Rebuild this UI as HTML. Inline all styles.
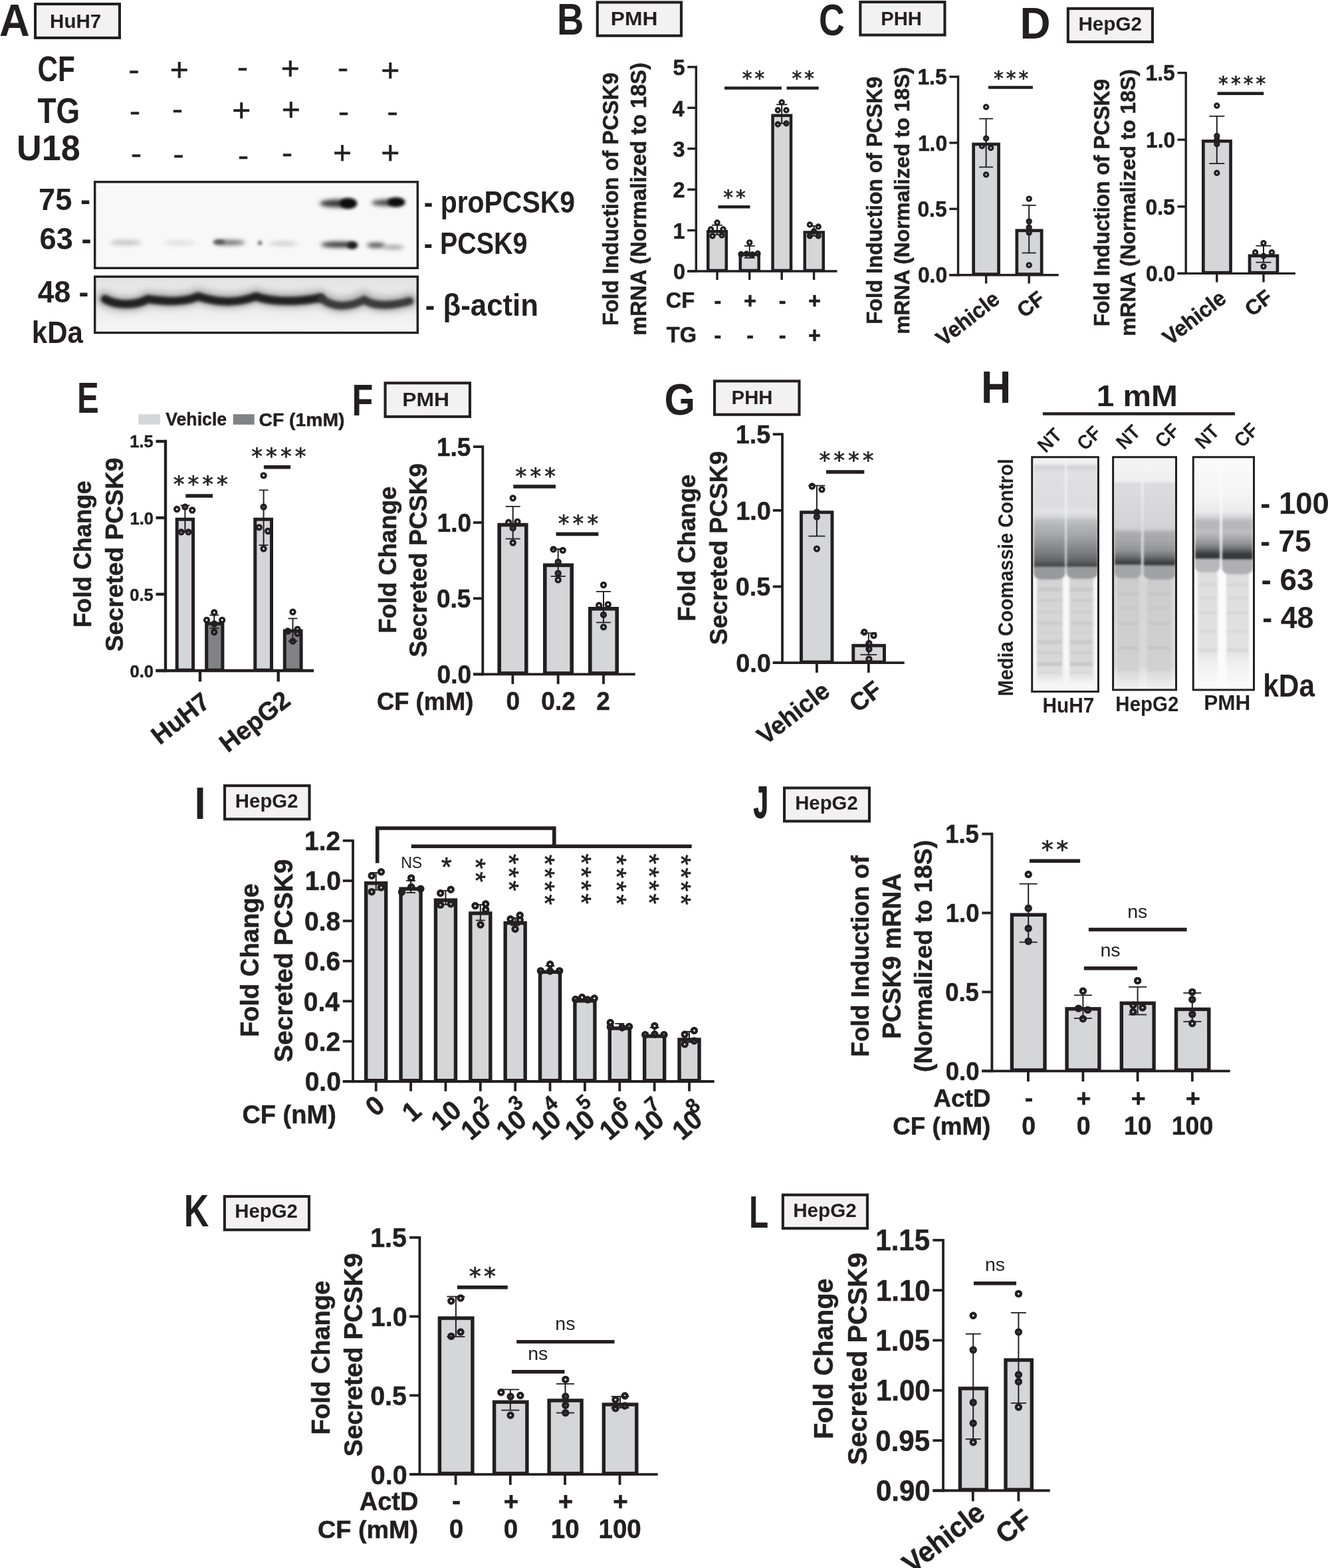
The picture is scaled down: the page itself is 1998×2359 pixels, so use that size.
<!DOCTYPE html>
<html lang="en">
<head>
<meta charset="utf-8">
<title>Figure</title>
<style>
html,body{margin:0;padding:0;background:#fff;}
svg{display:block;}
text{font-family:"Liberation Sans", sans-serif;fill:#231f20;white-space:pre;}
text.fD{font-family:"DejaVu Sans","Liberation Sans",sans-serif;}
</style>
</head>
<body>
<svg width="1998" height="2359" viewBox="0 0 1998 2359">
<defs>
<filter id="bl2" filterUnits="userSpaceOnUse" x="130" y="260" width="510" height="250"><feGaussianBlur stdDeviation="2.2"/></filter>
<filter id="bl3" filterUnits="userSpaceOnUse" x="130" y="260" width="510" height="250"><feGaussianBlur stdDeviation="3.2"/></filter>
<filter id="bl5" filterUnits="userSpaceOnUse" x="130" y="260" width="510" height="250"><feGaussianBlur stdDeviation="5"/></filter>
<clipPath id="cA1"><rect x="142.7" y="273.7" width="485.6" height="129.6"/></clipPath>
<clipPath id="cA2"><rect x="142.7" y="416.2" width="485.6" height="84.4"/></clipPath>
<linearGradient id="gA2" x1="0" y1="0" x2="0" y2="1"><stop offset="0" stop-color="#e2e2e2"/><stop offset="0.25" stop-color="#e8e8e8"/><stop offset="0.7" stop-color="#efefef"/><stop offset="1" stop-color="#f6f6f6"/></linearGradient>
<clipPath id="cgH1"><rect x="1552.7" y="687.7" width="99.70000000000005" height="352.79999999999995"/></clipPath><filter id="fgH1" filterUnits="userSpaceOnUse" x="1541.2" y="676.2" width="122.70000000000005" height="375.79999999999995"><feGaussianBlur stdDeviation="1.6"/></filter>
<linearGradient id="gH1bg" gradientUnits="userSpaceOnUse" x1="0" y1="686" x2="0" y2="1042"><stop offset="0.0000" stop-color="#f8f8f8"/><stop offset="1.0000" stop-color="#f6f6f6"/></linearGradient>
<linearGradient id="gH1u0" gradientUnits="userSpaceOnUse" x1="0" y1="688" x2="0" y2="853"><stop offset="0.0000" stop-color="#f4f4f4"/><stop offset="0.0606" stop-color="#eeeeee"/><stop offset="0.0788" stop-color="#d4d4d6"/><stop offset="0.1091" stop-color="#d6d6d8"/><stop offset="0.1333" stop-color="#e2e2e4"/><stop offset="0.2848" stop-color="#dededf"/><stop offset="0.4364" stop-color="#dddddf"/><stop offset="0.4970" stop-color="#e2e2e4"/><stop offset="0.5394" stop-color="#d8d8da"/><stop offset="0.5697" stop-color="#c2c3c5"/><stop offset="0.6000" stop-color="#b8b9bb"/><stop offset="0.7030" stop-color="#a6a7aa"/><stop offset="0.8061" stop-color="#8c8d90"/><stop offset="0.9091" stop-color="#707174"/><stop offset="0.9576" stop-color="#5a5b5e"/><stop offset="0.9758" stop-color="#4a4b4e"/><stop offset="1.0000" stop-color="#4a4b4e"/></linearGradient>
<linearGradient id="gH1l0" gradientUnits="userSpaceOnUse" x1="0" y1="853" x2="0" y2="1040"><stop offset="0.0000" stop-color="#d0d0d0"/><stop offset="0.1444" stop-color="#d4d4d4"/><stop offset="0.7861" stop-color="#d8d8d8"/><stop offset="0.8824" stop-color="#e6e6e6"/><stop offset="0.9465" stop-color="#f6f6f6"/><stop offset="1.0000" stop-color="#f8f8f8"/></linearGradient>
<linearGradient id="gH1u1" gradientUnits="userSpaceOnUse" x1="0" y1="688" x2="0" y2="853"><stop offset="0.0000" stop-color="#f4f4f4"/><stop offset="0.0606" stop-color="#eeeeee"/><stop offset="0.0788" stop-color="#d4d4d6"/><stop offset="0.1091" stop-color="#d6d6d8"/><stop offset="0.1333" stop-color="#e2e2e4"/><stop offset="0.2848" stop-color="#dededf"/><stop offset="0.4364" stop-color="#dddddf"/><stop offset="0.4970" stop-color="#e2e2e4"/><stop offset="0.5394" stop-color="#d8d8da"/><stop offset="0.5697" stop-color="#c2c3c5"/><stop offset="0.6000" stop-color="#b8b9bb"/><stop offset="0.7030" stop-color="#a6a7aa"/><stop offset="0.8061" stop-color="#8c8d90"/><stop offset="0.9091" stop-color="#707174"/><stop offset="0.9576" stop-color="#5a5b5e"/><stop offset="0.9758" stop-color="#4a4b4e"/><stop offset="1.0000" stop-color="#4a4b4e"/></linearGradient>
<linearGradient id="gH1l1" gradientUnits="userSpaceOnUse" x1="0" y1="853" x2="0" y2="1040"><stop offset="0.0000" stop-color="#d0d0d0"/><stop offset="0.1444" stop-color="#d4d4d4"/><stop offset="0.7861" stop-color="#d8d8d8"/><stop offset="0.8824" stop-color="#e6e6e6"/><stop offset="0.9465" stop-color="#f6f6f6"/><stop offset="1.0000" stop-color="#f8f8f8"/></linearGradient>
<clipPath id="cgH2"><rect x="1674.6" y="687.7" width="94.90000000000009" height="350.20000000000005"/></clipPath><filter id="fgH2" filterUnits="userSpaceOnUse" x="1663.1" y="676.2" width="117.90000000000009" height="373.20000000000005"><feGaussianBlur stdDeviation="1.6"/></filter>
<linearGradient id="gH2bg" gradientUnits="userSpaceOnUse" x1="0" y1="686" x2="0" y2="1039"><stop offset="0.0000" stop-color="#f6f6f6"/><stop offset="0.1530" stop-color="#ececec"/><stop offset="0.3229" stop-color="#dedede"/><stop offset="0.5212" stop-color="#d6d6d6"/><stop offset="0.8895" stop-color="#d8d8d8"/><stop offset="0.9518" stop-color="#ececec"/><stop offset="1.0000" stop-color="#f6f6f6"/></linearGradient>
<linearGradient id="gH2u0" gradientUnits="userSpaceOnUse" x1="0" y1="688" x2="0" y2="851"><stop offset="0.0000" stop-color="#f4f4f4"/><stop offset="0.2209" stop-color="#f0f0f0"/><stop offset="0.2454" stop-color="#d8d8da"/><stop offset="0.2761" stop-color="#dcdcde"/><stop offset="0.3497" stop-color="#dadadc"/><stop offset="0.6564" stop-color="#d2d2d4"/><stop offset="0.6933" stop-color="#b0b0b2"/><stop offset="0.7239" stop-color="#a8a8aa"/><stop offset="0.7607" stop-color="#a8a8ab"/><stop offset="0.8589" stop-color="#929396"/><stop offset="0.9080" stop-color="#74757a"/><stop offset="0.9509" stop-color="#505154"/><stop offset="0.9693" stop-color="#3e3f42"/><stop offset="1.0000" stop-color="#3c3d40"/></linearGradient>
<linearGradient id="gH2l0" gradientUnits="userSpaceOnUse" x1="0" y1="850" x2="0" y2="1038"><stop offset="0.0000" stop-color="#c8c8c8"/><stop offset="0.1596" stop-color="#cccccc"/><stop offset="0.7979" stop-color="#d0d0d0"/><stop offset="0.8936" stop-color="#e0e0e0"/><stop offset="1.0000" stop-color="#f2f2f2"/></linearGradient>
<linearGradient id="gH2u1" gradientUnits="userSpaceOnUse" x1="0" y1="688" x2="0" y2="851"><stop offset="0.0000" stop-color="#f4f4f4"/><stop offset="0.2209" stop-color="#f0f0f0"/><stop offset="0.2454" stop-color="#d8d8da"/><stop offset="0.2761" stop-color="#dcdcde"/><stop offset="0.3497" stop-color="#dadadc"/><stop offset="0.6564" stop-color="#d2d2d4"/><stop offset="0.6933" stop-color="#b0b0b2"/><stop offset="0.7239" stop-color="#a8a8aa"/><stop offset="0.7607" stop-color="#a8a8ab"/><stop offset="0.8589" stop-color="#929396"/><stop offset="0.9080" stop-color="#74757a"/><stop offset="0.9509" stop-color="#505154"/><stop offset="0.9693" stop-color="#3e3f42"/><stop offset="1.0000" stop-color="#3c3d40"/></linearGradient>
<linearGradient id="gH2l1" gradientUnits="userSpaceOnUse" x1="0" y1="850" x2="0" y2="1038"><stop offset="0.0000" stop-color="#c8c8c8"/><stop offset="0.1596" stop-color="#cccccc"/><stop offset="0.7979" stop-color="#d0d0d0"/><stop offset="0.8936" stop-color="#e0e0e0"/><stop offset="1.0000" stop-color="#f2f2f2"/></linearGradient>
<clipPath id="cgH3"><rect x="1795.2" y="687.7" width="91.29999999999995" height="350.20000000000005"/></clipPath><filter id="fgH3" filterUnits="userSpaceOnUse" x="1783.7" y="676.2" width="114.29999999999995" height="373.20000000000005"><feGaussianBlur stdDeviation="1.6"/></filter>
<linearGradient id="gH3bg" gradientUnits="userSpaceOnUse" x1="0" y1="686" x2="0" y2="1039"><stop offset="0.0000" stop-color="#fbfbfb"/><stop offset="1.0000" stop-color="#fbfbfb"/></linearGradient>
<linearGradient id="gH3u0" gradientUnits="userSpaceOnUse" x1="0" y1="688" x2="0" y2="841"><stop offset="0.0000" stop-color="#fbfbfb"/><stop offset="0.3725" stop-color="#f4f4f4"/><stop offset="0.5359" stop-color="#eaeaec"/><stop offset="0.5948" stop-color="#d0d0d2"/><stop offset="0.6275" stop-color="#b8b8bb"/><stop offset="0.6928" stop-color="#b6b6b9"/><stop offset="0.7320" stop-color="#c0c0c3"/><stop offset="0.7974" stop-color="#a8a8ab"/><stop offset="0.8627" stop-color="#8a8b8e"/><stop offset="0.9150" stop-color="#606164"/><stop offset="0.9477" stop-color="#3a3b3e"/><stop offset="1.0000" stop-color="#343538"/></linearGradient>
<linearGradient id="gH3l0" gradientUnits="userSpaceOnUse" x1="0" y1="841" x2="0" y2="1038"><stop offset="0.0000" stop-color="#dcdcdc"/><stop offset="0.1472" stop-color="#dedede"/><stop offset="0.7056" stop-color="#e2e2e2"/><stop offset="0.8071" stop-color="#f0f0f0"/><stop offset="1.0000" stop-color="#fbfbfb"/></linearGradient>
<linearGradient id="gH3u1" gradientUnits="userSpaceOnUse" x1="0" y1="688" x2="0" y2="841"><stop offset="0.0000" stop-color="#fbfbfb"/><stop offset="0.3725" stop-color="#f4f4f4"/><stop offset="0.5359" stop-color="#eaeaec"/><stop offset="0.5948" stop-color="#d0d0d2"/><stop offset="0.6275" stop-color="#b8b8bb"/><stop offset="0.6928" stop-color="#b6b6b9"/><stop offset="0.7320" stop-color="#c0c0c3"/><stop offset="0.7974" stop-color="#a8a8ab"/><stop offset="0.8627" stop-color="#8a8b8e"/><stop offset="0.9150" stop-color="#606164"/><stop offset="0.9477" stop-color="#3a3b3e"/><stop offset="1.0000" stop-color="#343538"/></linearGradient>
<linearGradient id="gH3l1" gradientUnits="userSpaceOnUse" x1="0" y1="841" x2="0" y2="1038"><stop offset="0.0000" stop-color="#dcdcdc"/><stop offset="0.1472" stop-color="#dedede"/><stop offset="0.7056" stop-color="#e2e2e2"/><stop offset="0.8071" stop-color="#f0f0f0"/><stop offset="1.0000" stop-color="#fbfbfb"/></linearGradient>
</defs>
<rect width="1998" height="2359" fill="#fff"/>
<rect x="1065.25" y="348.25" width="27.50" height="59.75" fill="#d5d6d8" />
<rect x="1113.75" y="382.75" width="27.90" height="25.25" fill="#d5d6d8" />
<rect x="1162.55" y="173.75" width="27.50" height="234.25" fill="#d5d6d8" />
<rect x="1210.75" y="349.55" width="28.00" height="58.45" fill="#d5d6d8" />
<rect x="1464.65" y="216.95" width="37.90" height="196.75" fill="#d5d6d8" />
<rect x="1529.85" y="346.85" width="37.30" height="66.85" fill="#d5d6d8" />
<rect x="1810.35" y="212.35" width="41.20" height="199.05" fill="#d5d6d8" />
<rect x="1880.05" y="384.85" width="41.90" height="26.55" fill="#d5d6d8" />
<rect x="266.20" y="781.30" width="24.40" height="227.70" fill="#d5d6d8" />
<rect x="310.70" y="938.10" width="24.20" height="70.90" fill="#808285" />
<rect x="383.80" y="781.30" width="24.70" height="227.70" fill="#d5d6d8" />
<rect x="428.30" y="949.20" width="24.80" height="59.80" fill="#808285" />
<rect x="751.20" y="789.60" width="40.60" height="224.80" fill="#d5d6d8" />
<rect x="819.80" y="850.30" width="40.40" height="164.10" fill="#d5d6d8" />
<rect x="887.80" y="915.80" width="40.40" height="98.60" fill="#d5d6d8" />
<rect x="1205.45" y="770.75" width="46.50" height="226.35" fill="#d5d6d8" />
<rect x="1283.75" y="971.25" width="46.70" height="25.85" fill="#d5d6d8" />
<rect x="550.70" y="1328.70" width="30.00" height="298.30" fill="#d5d6d8" />
<rect x="603.07" y="1337.20" width="30.00" height="289.80" fill="#d5d6d8" />
<rect x="655.44" y="1354.20" width="30.00" height="272.80" fill="#d5d6d8" />
<rect x="707.81" y="1374.00" width="30.00" height="253.00" fill="#d5d6d8" />
<rect x="760.18" y="1388.70" width="30.00" height="238.30" fill="#d5d6d8" />
<rect x="812.55" y="1462.30" width="30.00" height="164.70" fill="#d5d6d8" />
<rect x="864.92" y="1505.70" width="30.00" height="121.30" fill="#d5d6d8" />
<rect x="917.29" y="1547.00" width="30.00" height="80.00" fill="#d5d6d8" />
<rect x="969.66" y="1558.90" width="30.00" height="68.10" fill="#d5d6d8" />
<rect x="1022.03" y="1564.00" width="30.00" height="63.00" fill="#d5d6d8" />
<rect x="1522.40" y="1376.30" width="49.60" height="235.00" fill="#d5d6d8" />
<rect x="1605.10" y="1517.80" width="48.80" height="93.50" fill="#d5d6d8" />
<rect x="1687.30" y="1509.30" width="48.80" height="102.00" fill="#d5d6d8" />
<rect x="1769.50" y="1518.40" width="49.30" height="92.90" fill="#d5d6d8" />
<rect x="661.40" y="1983.10" width="49.50" height="235.05" fill="#d5d6d8" />
<rect x="743.60" y="2109.30" width="49.30" height="108.85" fill="#d5d6d8" />
<rect x="826.10" y="2107.00" width="49.00" height="111.15" fill="#d5d6d8" />
<rect x="908.30" y="2113.00" width="49.50" height="105.15" fill="#d5d6d8" />
<rect x="1444.40" y="2088.90" width="39.90" height="153.60" fill="#d5d6d8" />
<rect x="1513.00" y="2046.10" width="39.30" height="196.40" fill="#d5d6d8" />
<circle cx="1079.00" cy="335.00" r="3.0" fill="none" stroke="#231f20" stroke-width="3.4"/>
<circle cx="1069.50" cy="345.00" r="3.0" fill="none" stroke="#231f20" stroke-width="3.4"/>
<circle cx="1088.00" cy="345.00" r="3.0" fill="none" stroke="#231f20" stroke-width="3.4"/>
<circle cx="1072.00" cy="355.00" r="3.0" fill="none" stroke="#231f20" stroke-width="3.4"/>
<circle cx="1086.00" cy="354.00" r="3.0" fill="none" stroke="#231f20" stroke-width="3.4"/>
<circle cx="1127.70" cy="364.90" r="3.0" fill="none" stroke="#231f20" stroke-width="3.4"/>
<circle cx="1115.00" cy="382.50" r="3.0" fill="none" stroke="#231f20" stroke-width="3.4"/>
<circle cx="1123.00" cy="382.00" r="3.0" fill="none" stroke="#231f20" stroke-width="3.4"/>
<circle cx="1132.00" cy="383.00" r="3.0" fill="none" stroke="#231f20" stroke-width="3.4"/>
<circle cx="1140.00" cy="381.50" r="3.0" fill="none" stroke="#231f20" stroke-width="3.4"/>
<circle cx="1176.20" cy="154.00" r="3.0" fill="none" stroke="#231f20" stroke-width="3.4"/>
<circle cx="1170.30" cy="165.80" r="3.0" fill="none" stroke="#231f20" stroke-width="3.4"/>
<circle cx="1183.00" cy="165.80" r="3.0" fill="none" stroke="#231f20" stroke-width="3.4"/>
<circle cx="1170.30" cy="187.00" r="3.0" fill="none" stroke="#231f20" stroke-width="3.4"/>
<circle cx="1183.00" cy="185.70" r="3.0" fill="none" stroke="#231f20" stroke-width="3.4"/>
<circle cx="1218.40" cy="338.00" r="3.0" fill="none" stroke="#231f20" stroke-width="3.4"/>
<circle cx="1231.20" cy="341.00" r="3.0" fill="none" stroke="#231f20" stroke-width="3.4"/>
<circle cx="1218.40" cy="355.00" r="3.0" fill="none" stroke="#231f20" stroke-width="3.4"/>
<circle cx="1231.20" cy="355.00" r="3.0" fill="none" stroke="#231f20" stroke-width="3.4"/>
<circle cx="1224.60" cy="348.00" r="3.0" fill="none" stroke="#231f20" stroke-width="3.4"/>
<circle cx="1483.60" cy="161.00" r="3.0" fill="none" stroke="#231f20" stroke-width="3.4"/>
<circle cx="1483.60" cy="208.30" r="3.0" fill="none" stroke="#231f20" stroke-width="3.4"/>
<circle cx="1477.40" cy="219.70" r="3.0" fill="none" stroke="#231f20" stroke-width="3.4"/>
<circle cx="1490.70" cy="222.50" r="3.0" fill="none" stroke="#231f20" stroke-width="3.4"/>
<circle cx="1483.60" cy="262.80" r="3.0" fill="none" stroke="#231f20" stroke-width="3.4"/>
<circle cx="1548.20" cy="299.10" r="3.0" fill="none" stroke="#231f20" stroke-width="3.4"/>
<circle cx="1548.20" cy="333.10" r="3.0" fill="none" stroke="#231f20" stroke-width="3.4"/>
<circle cx="1548.20" cy="342.20" r="3.0" fill="none" stroke="#231f20" stroke-width="3.4"/>
<circle cx="1548.20" cy="350.10" r="3.0" fill="none" stroke="#231f20" stroke-width="3.4"/>
<circle cx="1548.20" cy="398.90" r="3.0" fill="none" stroke="#231f20" stroke-width="3.4"/>
<circle cx="1830.80" cy="159.00" r="3.0" fill="none" stroke="#231f20" stroke-width="3.4"/>
<circle cx="1830.80" cy="204.60" r="3.0" fill="none" stroke="#231f20" stroke-width="3.4"/>
<circle cx="1830.80" cy="210.50" r="3.0" fill="none" stroke="#231f20" stroke-width="3.4"/>
<circle cx="1830.80" cy="216.80" r="3.0" fill="none" stroke="#231f20" stroke-width="3.4"/>
<circle cx="1830.80" cy="260.20" r="3.0" fill="none" stroke="#231f20" stroke-width="3.4"/>
<circle cx="1901.00" cy="365.70" r="3.0" fill="none" stroke="#231f20" stroke-width="3.4"/>
<circle cx="1888.60" cy="379.80" r="3.0" fill="none" stroke="#231f20" stroke-width="3.4"/>
<circle cx="1913.50" cy="379.80" r="3.0" fill="none" stroke="#231f20" stroke-width="3.4"/>
<circle cx="1901.00" cy="385.20" r="3.0" fill="none" stroke="#231f20" stroke-width="3.4"/>
<circle cx="1901.00" cy="400.90" r="3.0" fill="none" stroke="#231f20" stroke-width="3.4"/>
<circle cx="266.20" cy="766.00" r="3.35" fill="none" stroke="#231f20" stroke-width="3.6"/>
<circle cx="278.40" cy="762.70" r="3.35" fill="none" stroke="#231f20" stroke-width="3.6"/>
<circle cx="289.20" cy="767.50" r="3.35" fill="none" stroke="#231f20" stroke-width="3.6"/>
<circle cx="272.70" cy="800.40" r="3.35" fill="none" stroke="#231f20" stroke-width="3.6"/>
<circle cx="283.50" cy="800.40" r="3.35" fill="none" stroke="#231f20" stroke-width="3.6"/>
<circle cx="396.60" cy="715.30" r="3.35" fill="none" stroke="#231f20" stroke-width="3.6"/>
<circle cx="396.60" cy="762.70" r="3.35" fill="none" stroke="#231f20" stroke-width="3.6"/>
<circle cx="389.80" cy="793.30" r="3.35" fill="none" stroke="#231f20" stroke-width="3.6"/>
<circle cx="403.10" cy="799.00" r="3.35" fill="none" stroke="#231f20" stroke-width="3.6"/>
<circle cx="396.60" cy="825.60" r="3.35" fill="none" stroke="#231f20" stroke-width="3.6"/>
<circle cx="322.30" cy="921.50" r="3.35" fill="none" stroke="#231f20" stroke-width="3.6"/>
<circle cx="311.00" cy="932.80" r="3.35" fill="none" stroke="#231f20" stroke-width="3.6"/>
<circle cx="334.20" cy="932.80" r="3.35" fill="none" stroke="#231f20" stroke-width="3.6"/>
<circle cx="322.30" cy="938.50" r="3.35" fill="none" stroke="#231f20" stroke-width="3.6"/>
<circle cx="322.30" cy="951.00" r="3.35" fill="none" stroke="#231f20" stroke-width="3.6"/>
<circle cx="440.50" cy="920.60" r="3.35" fill="none" stroke="#231f20" stroke-width="3.6"/>
<circle cx="432.90" cy="949.50" r="3.35" fill="none" stroke="#231f20" stroke-width="3.6"/>
<circle cx="447.60" cy="946.70" r="3.35" fill="none" stroke="#231f20" stroke-width="3.6"/>
<circle cx="447.60" cy="953.00" r="3.35" fill="none" stroke="#231f20" stroke-width="3.6"/>
<circle cx="440.50" cy="964.60" r="3.35" fill="none" stroke="#231f20" stroke-width="3.6"/>
<circle cx="771.70" cy="749.30" r="3.35" fill="none" stroke="#231f20" stroke-width="3.6"/>
<circle cx="765.20" cy="786.00" r="3.35" fill="none" stroke="#231f20" stroke-width="3.6"/>
<circle cx="778.50" cy="784.80" r="3.35" fill="none" stroke="#231f20" stroke-width="3.6"/>
<circle cx="771.70" cy="794.40" r="3.35" fill="none" stroke="#231f20" stroke-width="3.6"/>
<circle cx="771.70" cy="816.50" r="3.35" fill="none" stroke="#231f20" stroke-width="3.6"/>
<circle cx="832.60" cy="826.40" r="3.35" fill="none" stroke="#231f20" stroke-width="3.6"/>
<circle cx="846.80" cy="827.80" r="3.35" fill="none" stroke="#231f20" stroke-width="3.6"/>
<circle cx="839.70" cy="845.50" r="3.35" fill="none" stroke="#231f20" stroke-width="3.6"/>
<circle cx="839.70" cy="862.50" r="3.35" fill="none" stroke="#231f20" stroke-width="3.6"/>
<circle cx="839.70" cy="872.40" r="3.35" fill="none" stroke="#231f20" stroke-width="3.6"/>
<circle cx="908.00" cy="880.00" r="3.35" fill="none" stroke="#231f20" stroke-width="3.6"/>
<circle cx="901.20" cy="910.70" r="3.35" fill="none" stroke="#231f20" stroke-width="3.6"/>
<circle cx="914.80" cy="909.30" r="3.35" fill="none" stroke="#231f20" stroke-width="3.6"/>
<circle cx="908.00" cy="924.90" r="3.35" fill="none" stroke="#231f20" stroke-width="3.6"/>
<circle cx="908.00" cy="943.30" r="3.35" fill="none" stroke="#231f20" stroke-width="3.6"/>
<circle cx="1221.80" cy="731.50" r="3.35" fill="none" stroke="#231f20" stroke-width="3.6"/>
<circle cx="1236.50" cy="736.30" r="3.35" fill="none" stroke="#231f20" stroke-width="3.6"/>
<circle cx="1228.90" cy="770.30" r="3.35" fill="none" stroke="#231f20" stroke-width="3.6"/>
<circle cx="1228.90" cy="777.70" r="3.35" fill="none" stroke="#231f20" stroke-width="3.6"/>
<circle cx="1228.90" cy="825.60" r="3.35" fill="none" stroke="#231f20" stroke-width="3.6"/>
<circle cx="1300.30" cy="951.00" r="3.35" fill="none" stroke="#231f20" stroke-width="3.6"/>
<circle cx="1314.50" cy="956.00" r="3.35" fill="none" stroke="#231f20" stroke-width="3.6"/>
<circle cx="1307.40" cy="968.00" r="3.35" fill="none" stroke="#231f20" stroke-width="3.6"/>
<circle cx="1307.40" cy="976.50" r="3.35" fill="none" stroke="#231f20" stroke-width="3.6"/>
<circle cx="1307.40" cy="991.50" r="3.35" fill="none" stroke="#231f20" stroke-width="3.6"/>
<circle cx="559.20" cy="1317.50" r="3.6" fill="none" stroke="#231f20" stroke-width="4.2"/>
<circle cx="573.40" cy="1311.80" r="3.6" fill="none" stroke="#231f20" stroke-width="4.2"/>
<circle cx="559.20" cy="1341.60" r="3.6" fill="none" stroke="#231f20" stroke-width="4.2"/>
<circle cx="573.40" cy="1335.30" r="3.6" fill="none" stroke="#231f20" stroke-width="4.2"/>
<circle cx="618.70" cy="1320.90" r="3.6" fill="none" stroke="#231f20" stroke-width="4.2"/>
<circle cx="604.50" cy="1342.00" r="3.6" fill="none" stroke="#231f20" stroke-width="4.2"/>
<circle cx="632.90" cy="1337.30" r="3.6" fill="none" stroke="#231f20" stroke-width="4.2"/>
<circle cx="618.70" cy="1334.50" r="3.6" fill="none" stroke="#231f20" stroke-width="4.2"/>
<circle cx="678.20" cy="1338.20" r="3.6" fill="none" stroke="#231f20" stroke-width="4.2"/>
<circle cx="662.70" cy="1343.80" r="3.6" fill="none" stroke="#231f20" stroke-width="4.2"/>
<circle cx="662.70" cy="1361.40" r="3.6" fill="none" stroke="#231f20" stroke-width="4.2"/>
<circle cx="678.20" cy="1360.00" r="3.6" fill="none" stroke="#231f20" stroke-width="4.2"/>
<circle cx="715.00" cy="1362.80" r="3.6" fill="none" stroke="#231f20" stroke-width="4.2"/>
<circle cx="730.70" cy="1360.00" r="3.6" fill="none" stroke="#231f20" stroke-width="4.2"/>
<circle cx="730.70" cy="1368.50" r="3.6" fill="none" stroke="#231f20" stroke-width="4.2"/>
<circle cx="723.00" cy="1391.20" r="3.6" fill="none" stroke="#231f20" stroke-width="4.2"/>
<circle cx="768.00" cy="1382.70" r="3.6" fill="none" stroke="#231f20" stroke-width="4.2"/>
<circle cx="782.20" cy="1377.00" r="3.6" fill="none" stroke="#231f20" stroke-width="4.2"/>
<circle cx="782.20" cy="1384.00" r="3.6" fill="none" stroke="#231f20" stroke-width="4.2"/>
<circle cx="775.10" cy="1397.70" r="3.6" fill="none" stroke="#231f20" stroke-width="4.2"/>
<circle cx="827.60" cy="1450.70" r="3.6" fill="none" stroke="#231f20" stroke-width="4.2"/>
<circle cx="813.40" cy="1460.60" r="3.6" fill="none" stroke="#231f20" stroke-width="4.2"/>
<circle cx="841.70" cy="1460.60" r="3.6" fill="none" stroke="#231f20" stroke-width="4.2"/>
<circle cx="827.60" cy="1461.00" r="3.6" fill="none" stroke="#231f20" stroke-width="4.2"/>
<circle cx="865.80" cy="1503.50" r="3.6" fill="none" stroke="#231f20" stroke-width="4.2"/>
<circle cx="875.70" cy="1500.50" r="3.6" fill="none" stroke="#231f20" stroke-width="4.2"/>
<circle cx="884.20" cy="1504.00" r="3.6" fill="none" stroke="#231f20" stroke-width="4.2"/>
<circle cx="894.20" cy="1502.00" r="3.6" fill="none" stroke="#231f20" stroke-width="4.2"/>
<circle cx="918.30" cy="1538.50" r="3.6" fill="none" stroke="#231f20" stroke-width="4.2"/>
<circle cx="918.30" cy="1545.00" r="3.6" fill="none" stroke="#231f20" stroke-width="4.2"/>
<circle cx="936.00" cy="1546.00" r="3.6" fill="none" stroke="#231f20" stroke-width="4.2"/>
<circle cx="946.60" cy="1544.50" r="3.6" fill="none" stroke="#231f20" stroke-width="4.2"/>
<circle cx="984.90" cy="1543.50" r="3.6" fill="none" stroke="#231f20" stroke-width="4.2"/>
<circle cx="970.70" cy="1556.80" r="3.6" fill="none" stroke="#231f20" stroke-width="4.2"/>
<circle cx="999.00" cy="1556.80" r="3.6" fill="none" stroke="#231f20" stroke-width="4.2"/>
<circle cx="984.90" cy="1556.00" r="3.6" fill="none" stroke="#231f20" stroke-width="4.2"/>
<circle cx="1030.20" cy="1556.20" r="3.6" fill="none" stroke="#231f20" stroke-width="4.2"/>
<circle cx="1044.40" cy="1550.50" r="3.6" fill="none" stroke="#231f20" stroke-width="4.2"/>
<circle cx="1030.20" cy="1571.00" r="3.6" fill="none" stroke="#231f20" stroke-width="4.2"/>
<circle cx="1044.40" cy="1566.00" r="3.6" fill="none" stroke="#231f20" stroke-width="4.2"/>
<circle cx="1547.20" cy="1315.50" r="3.6" fill="none" stroke="#231f20" stroke-width="4.2"/>
<circle cx="1547.20" cy="1366.50" r="3.6" fill="none" stroke="#231f20" stroke-width="4.2"/>
<circle cx="1547.20" cy="1396.80" r="3.6" fill="none" stroke="#231f20" stroke-width="4.2"/>
<circle cx="1547.20" cy="1416.10" r="3.6" fill="none" stroke="#231f20" stroke-width="4.2"/>
<circle cx="1629.40" cy="1491.00" r="3.6" fill="none" stroke="#231f20" stroke-width="4.2"/>
<circle cx="1622.60" cy="1517.10" r="3.6" fill="none" stroke="#231f20" stroke-width="4.2"/>
<circle cx="1636.50" cy="1519.40" r="3.6" fill="none" stroke="#231f20" stroke-width="4.2"/>
<circle cx="1629.40" cy="1532.70" r="3.6" fill="none" stroke="#231f20" stroke-width="4.2"/>
<circle cx="1711.60" cy="1475.40" r="3.6" fill="none" stroke="#231f20" stroke-width="4.2"/>
<circle cx="1704.80" cy="1512.30" r="3.6" fill="none" stroke="#231f20" stroke-width="4.2"/>
<circle cx="1719.00" cy="1516.00" r="3.6" fill="none" stroke="#231f20" stroke-width="4.2"/>
<circle cx="1704.80" cy="1522.20" r="3.6" fill="none" stroke="#231f20" stroke-width="4.2"/>
<circle cx="1793.80" cy="1492.40" r="3.6" fill="none" stroke="#231f20" stroke-width="4.2"/>
<circle cx="1793.80" cy="1503.80" r="3.6" fill="none" stroke="#231f20" stroke-width="4.2"/>
<circle cx="1793.80" cy="1525.90" r="3.6" fill="none" stroke="#231f20" stroke-width="4.2"/>
<circle cx="1793.80" cy="1539.80" r="3.6" fill="none" stroke="#231f20" stroke-width="4.2"/>
<circle cx="678.80" cy="1957.20" r="3.6" fill="none" stroke="#231f20" stroke-width="4.2"/>
<circle cx="693.00" cy="1952.90" r="3.6" fill="none" stroke="#231f20" stroke-width="4.2"/>
<circle cx="678.80" cy="2010.40" r="3.6" fill="none" stroke="#231f20" stroke-width="4.2"/>
<circle cx="693.00" cy="2004.00" r="3.6" fill="none" stroke="#231f20" stroke-width="4.2"/>
<circle cx="753.90" cy="2094.70" r="3.6" fill="none" stroke="#231f20" stroke-width="4.2"/>
<circle cx="768.10" cy="2101.00" r="3.6" fill="none" stroke="#231f20" stroke-width="4.2"/>
<circle cx="782.80" cy="2099.50" r="3.6" fill="none" stroke="#231f20" stroke-width="4.2"/>
<circle cx="768.10" cy="2129.30" r="3.6" fill="none" stroke="#231f20" stroke-width="4.2"/>
<circle cx="850.80" cy="2075.40" r="3.6" fill="none" stroke="#231f20" stroke-width="4.2"/>
<circle cx="850.80" cy="2101.00" r="3.6" fill="none" stroke="#231f20" stroke-width="4.2"/>
<circle cx="850.80" cy="2114.30" r="3.6" fill="none" stroke="#231f20" stroke-width="4.2"/>
<circle cx="850.80" cy="2125.60" r="3.6" fill="none" stroke="#231f20" stroke-width="4.2"/>
<circle cx="926.00" cy="2105.80" r="3.6" fill="none" stroke="#231f20" stroke-width="4.2"/>
<circle cx="940.10" cy="2100.00" r="3.6" fill="none" stroke="#231f20" stroke-width="4.2"/>
<circle cx="926.00" cy="2118.80" r="3.6" fill="none" stroke="#231f20" stroke-width="4.2"/>
<circle cx="940.10" cy="2115.00" r="3.6" fill="none" stroke="#231f20" stroke-width="4.2"/>
<circle cx="1464.20" cy="1979.30" r="3.6" fill="none" stroke="#231f20" stroke-width="4.2"/>
<circle cx="1464.20" cy="2030.90" r="3.6" fill="none" stroke="#231f20" stroke-width="4.2"/>
<circle cx="1464.20" cy="2110.00" r="3.6" fill="none" stroke="#231f20" stroke-width="4.2"/>
<circle cx="1464.20" cy="2141.20" r="3.6" fill="none" stroke="#231f20" stroke-width="4.2"/>
<circle cx="1464.20" cy="2169.80" r="3.6" fill="none" stroke="#231f20" stroke-width="4.2"/>
<circle cx="1532.40" cy="1946.40" r="3.6" fill="none" stroke="#231f20" stroke-width="4.2"/>
<circle cx="1532.40" cy="2004.00" r="3.6" fill="none" stroke="#231f20" stroke-width="4.2"/>
<circle cx="1532.40" cy="2068.30" r="3.6" fill="none" stroke="#231f20" stroke-width="4.2"/>
<circle cx="1532.40" cy="2078.80" r="3.6" fill="none" stroke="#231f20" stroke-width="4.2"/>
<circle cx="1532.40" cy="2117.00" r="3.6" fill="none" stroke="#231f20" stroke-width="4.2"/>
<rect x="1065.25" y="348.25" width="27.50" height="58.70" fill="none" stroke="#231f20" stroke-width="4.5" />
<rect x="1113.75" y="382.75" width="27.90" height="24.20" fill="none" stroke="#231f20" stroke-width="4.5" />
<rect x="1162.55" y="173.75" width="27.50" height="233.20" fill="none" stroke="#231f20" stroke-width="4.5" />
<rect x="1210.75" y="349.55" width="28.00" height="57.40" fill="none" stroke="#231f20" stroke-width="4.5" />
<rect x="1464.65" y="216.95" width="37.90" height="195.60" fill="none" stroke="#231f20" stroke-width="4.7" />
<rect x="1529.85" y="346.85" width="37.30" height="65.70" fill="none" stroke="#231f20" stroke-width="4.7" />
<rect x="1810.35" y="212.35" width="41.20" height="197.90" fill="none" stroke="#231f20" stroke-width="4.7" />
<rect x="1880.05" y="384.85" width="41.90" height="25.40" fill="none" stroke="#231f20" stroke-width="4.7" />
<rect x="266.20" y="781.30" width="24.40" height="226.90" fill="none" stroke="#231f20" stroke-width="5.0" />
<rect x="310.70" y="938.10" width="24.20" height="70.10" fill="none" stroke="#231f20" stroke-width="5.0" />
<rect x="383.80" y="781.30" width="24.70" height="226.90" fill="none" stroke="#231f20" stroke-width="5.0" />
<rect x="428.30" y="949.20" width="24.80" height="59.00" fill="none" stroke="#231f20" stroke-width="5.0" />
<rect x="751.20" y="789.60" width="40.60" height="223.40" fill="none" stroke="#231f20" stroke-width="5.6" />
<rect x="819.80" y="850.30" width="40.40" height="162.70" fill="none" stroke="#231f20" stroke-width="5.6" />
<rect x="887.80" y="915.80" width="40.40" height="97.20" fill="none" stroke="#231f20" stroke-width="5.6" />
<rect x="1205.45" y="770.75" width="46.50" height="225.30" fill="none" stroke="#231f20" stroke-width="4.9" />
<rect x="1283.75" y="971.25" width="46.70" height="24.80" fill="none" stroke="#231f20" stroke-width="4.9" />
<rect x="550.70" y="1328.70" width="30.00" height="297.00" fill="none" stroke="#231f20" stroke-width="5.4" />
<rect x="603.07" y="1337.20" width="30.00" height="288.50" fill="none" stroke="#231f20" stroke-width="5.4" />
<rect x="655.44" y="1354.20" width="30.00" height="271.50" fill="none" stroke="#231f20" stroke-width="5.4" />
<rect x="707.81" y="1374.00" width="30.00" height="251.70" fill="none" stroke="#231f20" stroke-width="5.4" />
<rect x="760.18" y="1388.70" width="30.00" height="237.00" fill="none" stroke="#231f20" stroke-width="5.4" />
<rect x="812.55" y="1462.30" width="30.00" height="163.40" fill="none" stroke="#231f20" stroke-width="5.4" />
<rect x="864.92" y="1505.70" width="30.00" height="120.00" fill="none" stroke="#231f20" stroke-width="5.4" />
<rect x="917.29" y="1547.00" width="30.00" height="78.70" fill="none" stroke="#231f20" stroke-width="5.4" />
<rect x="969.66" y="1558.90" width="30.00" height="66.80" fill="none" stroke="#231f20" stroke-width="5.4" />
<rect x="1022.03" y="1564.00" width="30.00" height="61.70" fill="none" stroke="#231f20" stroke-width="5.4" />
<rect x="1522.40" y="1376.30" width="49.60" height="233.70" fill="none" stroke="#231f20" stroke-width="5.4" />
<rect x="1605.10" y="1517.80" width="48.80" height="92.20" fill="none" stroke="#231f20" stroke-width="5.4" />
<rect x="1687.30" y="1509.30" width="48.80" height="100.70" fill="none" stroke="#231f20" stroke-width="5.4" />
<rect x="1769.50" y="1518.40" width="49.30" height="91.60" fill="none" stroke="#231f20" stroke-width="5.4" />
<rect x="661.40" y="1983.10" width="49.50" height="233.75" fill="none" stroke="#231f20" stroke-width="5.4" />
<rect x="743.60" y="2109.30" width="49.30" height="107.55" fill="none" stroke="#231f20" stroke-width="5.4" />
<rect x="826.10" y="2107.00" width="49.00" height="109.85" fill="none" stroke="#231f20" stroke-width="5.4" />
<rect x="908.30" y="2113.00" width="49.50" height="103.85" fill="none" stroke="#231f20" stroke-width="5.4" />
<rect x="1444.40" y="2088.90" width="39.90" height="152.30" fill="none" stroke="#231f20" stroke-width="5.4" />
<rect x="1513.00" y="2046.10" width="39.30" height="195.10" fill="none" stroke="#231f20" stroke-width="5.4" />
<line x1="1079.00" y1="338.80" x2="1079.00" y2="353.00" stroke="#231f20" stroke-width="2.0" stroke-linecap="butt"/>
<line x1="1071.00" y1="338.80" x2="1087.00" y2="338.80" stroke="#231f20" stroke-width="1.8" stroke-linecap="butt"/>
<line x1="1071.00" y1="353.00" x2="1087.00" y2="353.00" stroke="#231f20" stroke-width="1.8" stroke-linecap="butt"/>
<line x1="1127.70" y1="370.00" x2="1127.70" y2="388.00" stroke="#231f20" stroke-width="2.0" stroke-linecap="butt"/>
<line x1="1119.70" y1="370.00" x2="1135.70" y2="370.00" stroke="#231f20" stroke-width="1.8" stroke-linecap="butt"/>
<line x1="1119.70" y1="388.00" x2="1135.70" y2="388.00" stroke="#231f20" stroke-width="1.8" stroke-linecap="butt"/>
<line x1="1176.20" y1="157.30" x2="1176.20" y2="185.70" stroke="#231f20" stroke-width="2.0" stroke-linecap="butt"/>
<line x1="1168.20" y1="157.30" x2="1184.20" y2="157.30" stroke="#231f20" stroke-width="1.8" stroke-linecap="butt"/>
<line x1="1168.20" y1="185.70" x2="1184.20" y2="185.70" stroke="#231f20" stroke-width="1.8" stroke-linecap="butt"/>
<line x1="1224.60" y1="340.00" x2="1224.60" y2="355.00" stroke="#231f20" stroke-width="2.0" stroke-linecap="butt"/>
<line x1="1216.60" y1="340.00" x2="1232.60" y2="340.00" stroke="#231f20" stroke-width="1.8" stroke-linecap="butt"/>
<line x1="1216.60" y1="355.00" x2="1232.60" y2="355.00" stroke="#231f20" stroke-width="1.8" stroke-linecap="butt"/>
<line x1="1483.60" y1="178.60" x2="1483.60" y2="251.40" stroke="#231f20" stroke-width="2.0" stroke-linecap="butt"/>
<line x1="1473.10" y1="178.60" x2="1494.10" y2="178.60" stroke="#231f20" stroke-width="1.8" stroke-linecap="butt"/>
<line x1="1473.10" y1="251.40" x2="1494.10" y2="251.40" stroke="#231f20" stroke-width="1.8" stroke-linecap="butt"/>
<line x1="1548.20" y1="308.80" x2="1548.20" y2="380.50" stroke="#231f20" stroke-width="2.0" stroke-linecap="butt"/>
<line x1="1537.70" y1="308.80" x2="1558.70" y2="308.80" stroke="#231f20" stroke-width="1.8" stroke-linecap="butt"/>
<line x1="1537.70" y1="380.50" x2="1558.70" y2="380.50" stroke="#231f20" stroke-width="1.8" stroke-linecap="butt"/>
<line x1="1830.80" y1="174.80" x2="1830.80" y2="246.00" stroke="#231f20" stroke-width="2.0" stroke-linecap="butt"/>
<line x1="1819.30" y1="174.80" x2="1842.30" y2="174.80" stroke="#231f20" stroke-width="1.8" stroke-linecap="butt"/>
<line x1="1819.30" y1="246.00" x2="1842.30" y2="246.00" stroke="#231f20" stroke-width="1.8" stroke-linecap="butt"/>
<line x1="1901.00" y1="369.80" x2="1901.00" y2="394.70" stroke="#231f20" stroke-width="2.0" stroke-linecap="butt"/>
<line x1="1889.50" y1="369.80" x2="1912.50" y2="369.80" stroke="#231f20" stroke-width="1.8" stroke-linecap="butt"/>
<line x1="1889.50" y1="394.70" x2="1912.50" y2="394.70" stroke="#231f20" stroke-width="1.8" stroke-linecap="butt"/>
<line x1="278.40" y1="760.40" x2="278.40" y2="800.00" stroke="#231f20" stroke-width="2.0" stroke-linecap="butt"/>
<line x1="271.40" y1="760.40" x2="285.40" y2="760.40" stroke="#231f20" stroke-width="1.8" stroke-linecap="butt"/>
<line x1="271.40" y1="800.00" x2="285.40" y2="800.00" stroke="#231f20" stroke-width="1.8" stroke-linecap="butt"/>
<line x1="396.60" y1="737.40" x2="396.60" y2="820.20" stroke="#231f20" stroke-width="2.0" stroke-linecap="butt"/>
<line x1="389.60" y1="737.40" x2="403.60" y2="737.40" stroke="#231f20" stroke-width="1.8" stroke-linecap="butt"/>
<line x1="389.60" y1="820.20" x2="403.60" y2="820.20" stroke="#231f20" stroke-width="1.8" stroke-linecap="butt"/>
<line x1="322.30" y1="925.40" x2="322.30" y2="945.30" stroke="#231f20" stroke-width="2.0" stroke-linecap="butt"/>
<line x1="315.30" y1="925.40" x2="329.30" y2="925.40" stroke="#231f20" stroke-width="1.8" stroke-linecap="butt"/>
<line x1="315.30" y1="945.30" x2="329.30" y2="945.30" stroke="#231f20" stroke-width="1.8" stroke-linecap="butt"/>
<line x1="440.50" y1="930.50" x2="440.50" y2="964.60" stroke="#231f20" stroke-width="2.0" stroke-linecap="butt"/>
<line x1="433.50" y1="930.50" x2="447.50" y2="930.50" stroke="#231f20" stroke-width="1.8" stroke-linecap="butt"/>
<line x1="433.50" y1="964.60" x2="447.50" y2="964.60" stroke="#231f20" stroke-width="1.8" stroke-linecap="butt"/>
<line x1="771.70" y1="762.00" x2="771.70" y2="810.60" stroke="#231f20" stroke-width="2.0" stroke-linecap="butt"/>
<line x1="760.70" y1="762.00" x2="782.70" y2="762.00" stroke="#231f20" stroke-width="1.8" stroke-linecap="butt"/>
<line x1="760.70" y1="810.60" x2="782.70" y2="810.60" stroke="#231f20" stroke-width="1.8" stroke-linecap="butt"/>
<line x1="839.70" y1="826.00" x2="839.70" y2="867.00" stroke="#231f20" stroke-width="2.0" stroke-linecap="butt"/>
<line x1="828.70" y1="826.00" x2="850.70" y2="826.00" stroke="#231f20" stroke-width="1.8" stroke-linecap="butt"/>
<line x1="828.70" y1="867.00" x2="850.70" y2="867.00" stroke="#231f20" stroke-width="1.8" stroke-linecap="butt"/>
<line x1="908.00" y1="890.00" x2="908.00" y2="936.50" stroke="#231f20" stroke-width="2.0" stroke-linecap="butt"/>
<line x1="897.00" y1="890.00" x2="919.00" y2="890.00" stroke="#231f20" stroke-width="1.8" stroke-linecap="butt"/>
<line x1="897.00" y1="936.50" x2="919.00" y2="936.50" stroke="#231f20" stroke-width="1.8" stroke-linecap="butt"/>
<line x1="1228.90" y1="730.60" x2="1228.90" y2="806.60" stroke="#231f20" stroke-width="2.0" stroke-linecap="butt"/>
<line x1="1216.40" y1="730.60" x2="1241.40" y2="730.60" stroke="#231f20" stroke-width="1.8" stroke-linecap="butt"/>
<line x1="1216.40" y1="806.60" x2="1241.40" y2="806.60" stroke="#231f20" stroke-width="1.8" stroke-linecap="butt"/>
<line x1="1306.80" y1="952.40" x2="1306.80" y2="985.00" stroke="#231f20" stroke-width="2.0" stroke-linecap="butt"/>
<line x1="1294.30" y1="952.40" x2="1319.30" y2="952.40" stroke="#231f20" stroke-width="1.8" stroke-linecap="butt"/>
<line x1="1294.30" y1="985.00" x2="1319.30" y2="985.00" stroke="#231f20" stroke-width="1.8" stroke-linecap="butt"/>
<line x1="565.70" y1="1313.00" x2="565.70" y2="1338.70" stroke="#231f20" stroke-width="2.0" stroke-linecap="butt"/>
<line x1="558.70" y1="1313.00" x2="572.70" y2="1313.00" stroke="#231f20" stroke-width="1.8" stroke-linecap="butt"/>
<line x1="558.70" y1="1338.70" x2="572.70" y2="1338.70" stroke="#231f20" stroke-width="1.8" stroke-linecap="butt"/>
<line x1="618.07" y1="1325.00" x2="618.07" y2="1343.00" stroke="#231f20" stroke-width="2.0" stroke-linecap="butt"/>
<line x1="611.07" y1="1325.00" x2="625.07" y2="1325.00" stroke="#231f20" stroke-width="1.8" stroke-linecap="butt"/>
<line x1="611.07" y1="1343.00" x2="625.07" y2="1343.00" stroke="#231f20" stroke-width="1.8" stroke-linecap="butt"/>
<line x1="670.44" y1="1340.00" x2="670.44" y2="1361.00" stroke="#231f20" stroke-width="2.0" stroke-linecap="butt"/>
<line x1="663.44" y1="1340.00" x2="677.44" y2="1340.00" stroke="#231f20" stroke-width="1.8" stroke-linecap="butt"/>
<line x1="663.44" y1="1361.00" x2="677.44" y2="1361.00" stroke="#231f20" stroke-width="1.8" stroke-linecap="butt"/>
<line x1="722.81" y1="1361.00" x2="722.81" y2="1384.60" stroke="#231f20" stroke-width="2.0" stroke-linecap="butt"/>
<line x1="715.81" y1="1361.00" x2="729.81" y2="1361.00" stroke="#231f20" stroke-width="1.8" stroke-linecap="butt"/>
<line x1="715.81" y1="1384.60" x2="729.81" y2="1384.60" stroke="#231f20" stroke-width="1.8" stroke-linecap="butt"/>
<line x1="775.18" y1="1381.00" x2="775.18" y2="1392.00" stroke="#231f20" stroke-width="2.0" stroke-linecap="butt"/>
<line x1="768.18" y1="1381.00" x2="782.18" y2="1381.00" stroke="#231f20" stroke-width="1.8" stroke-linecap="butt"/>
<line x1="768.18" y1="1392.00" x2="782.18" y2="1392.00" stroke="#231f20" stroke-width="1.8" stroke-linecap="butt"/>
<line x1="827.55" y1="1453.00" x2="827.55" y2="1462.00" stroke="#231f20" stroke-width="2.0" stroke-linecap="butt"/>
<line x1="820.55" y1="1453.00" x2="834.55" y2="1453.00" stroke="#231f20" stroke-width="1.8" stroke-linecap="butt"/>
<line x1="820.55" y1="1462.00" x2="834.55" y2="1462.00" stroke="#231f20" stroke-width="1.8" stroke-linecap="butt"/>
<line x1="932.29" y1="1540.00" x2="932.29" y2="1547.00" stroke="#231f20" stroke-width="2.0" stroke-linecap="butt"/>
<line x1="925.29" y1="1540.00" x2="939.29" y2="1540.00" stroke="#231f20" stroke-width="1.8" stroke-linecap="butt"/>
<line x1="925.29" y1="1547.00" x2="939.29" y2="1547.00" stroke="#231f20" stroke-width="1.8" stroke-linecap="butt"/>
<line x1="984.66" y1="1546.00" x2="984.66" y2="1557.00" stroke="#231f20" stroke-width="2.0" stroke-linecap="butt"/>
<line x1="977.66" y1="1546.00" x2="991.66" y2="1546.00" stroke="#231f20" stroke-width="1.8" stroke-linecap="butt"/>
<line x1="977.66" y1="1557.00" x2="991.66" y2="1557.00" stroke="#231f20" stroke-width="1.8" stroke-linecap="butt"/>
<line x1="1037.03" y1="1552.00" x2="1037.03" y2="1568.00" stroke="#231f20" stroke-width="2.0" stroke-linecap="butt"/>
<line x1="1030.03" y1="1552.00" x2="1044.03" y2="1552.00" stroke="#231f20" stroke-width="1.8" stroke-linecap="butt"/>
<line x1="1030.03" y1="1568.00" x2="1044.03" y2="1568.00" stroke="#231f20" stroke-width="1.8" stroke-linecap="butt"/>
<line x1="1547.20" y1="1329.70" x2="1547.20" y2="1417.50" stroke="#231f20" stroke-width="2.0" stroke-linecap="butt"/>
<line x1="1533.70" y1="1329.70" x2="1560.70" y2="1329.70" stroke="#231f20" stroke-width="1.8" stroke-linecap="butt"/>
<line x1="1533.70" y1="1417.50" x2="1560.70" y2="1417.50" stroke="#231f20" stroke-width="1.8" stroke-linecap="butt"/>
<line x1="1629.40" y1="1497.30" x2="1629.40" y2="1532.00" stroke="#231f20" stroke-width="2.0" stroke-linecap="butt"/>
<line x1="1615.90" y1="1497.30" x2="1642.90" y2="1497.30" stroke="#231f20" stroke-width="1.8" stroke-linecap="butt"/>
<line x1="1615.90" y1="1532.00" x2="1642.90" y2="1532.00" stroke="#231f20" stroke-width="1.8" stroke-linecap="butt"/>
<line x1="1711.60" y1="1484.80" x2="1711.60" y2="1526.50" stroke="#231f20" stroke-width="2.0" stroke-linecap="butt"/>
<line x1="1698.10" y1="1484.80" x2="1725.10" y2="1484.80" stroke="#231f20" stroke-width="1.8" stroke-linecap="butt"/>
<line x1="1698.10" y1="1526.50" x2="1725.10" y2="1526.50" stroke="#231f20" stroke-width="1.8" stroke-linecap="butt"/>
<line x1="1793.80" y1="1493.90" x2="1793.80" y2="1537.00" stroke="#231f20" stroke-width="2.0" stroke-linecap="butt"/>
<line x1="1780.30" y1="1493.90" x2="1807.30" y2="1493.90" stroke="#231f20" stroke-width="1.8" stroke-linecap="butt"/>
<line x1="1780.30" y1="1537.00" x2="1807.30" y2="1537.00" stroke="#231f20" stroke-width="1.8" stroke-linecap="butt"/>
<line x1="685.90" y1="1950.60" x2="685.90" y2="2011.00" stroke="#231f20" stroke-width="2.0" stroke-linecap="butt"/>
<line x1="672.40" y1="1950.60" x2="699.40" y2="1950.60" stroke="#231f20" stroke-width="1.8" stroke-linecap="butt"/>
<line x1="672.40" y1="2011.00" x2="699.40" y2="2011.00" stroke="#231f20" stroke-width="1.8" stroke-linecap="butt"/>
<line x1="767.80" y1="2090.50" x2="767.80" y2="2121.60" stroke="#231f20" stroke-width="2.0" stroke-linecap="butt"/>
<line x1="754.30" y1="2090.50" x2="781.30" y2="2090.50" stroke="#231f20" stroke-width="1.8" stroke-linecap="butt"/>
<line x1="754.30" y1="2121.60" x2="781.30" y2="2121.60" stroke="#231f20" stroke-width="1.8" stroke-linecap="butt"/>
<line x1="850.50" y1="2082.00" x2="850.50" y2="2125.60" stroke="#231f20" stroke-width="2.0" stroke-linecap="butt"/>
<line x1="837.00" y1="2082.00" x2="864.00" y2="2082.00" stroke="#231f20" stroke-width="1.8" stroke-linecap="butt"/>
<line x1="837.00" y1="2125.60" x2="864.00" y2="2125.60" stroke="#231f20" stroke-width="1.8" stroke-linecap="butt"/>
<line x1="933.00" y1="2101.00" x2="933.00" y2="2118.00" stroke="#231f20" stroke-width="2.0" stroke-linecap="butt"/>
<line x1="919.50" y1="2101.00" x2="946.50" y2="2101.00" stroke="#231f20" stroke-width="1.8" stroke-linecap="butt"/>
<line x1="919.50" y1="2118.00" x2="946.50" y2="2118.00" stroke="#231f20" stroke-width="1.8" stroke-linecap="butt"/>
<line x1="1464.20" y1="2006.80" x2="1464.20" y2="2165.00" stroke="#231f20" stroke-width="2.0" stroke-linecap="butt"/>
<line x1="1452.70" y1="2006.80" x2="1475.70" y2="2006.80" stroke="#231f20" stroke-width="1.8" stroke-linecap="butt"/>
<line x1="1452.70" y1="2165.00" x2="1475.70" y2="2165.00" stroke="#231f20" stroke-width="1.8" stroke-linecap="butt"/>
<line x1="1532.40" y1="1975.00" x2="1532.40" y2="2110.90" stroke="#231f20" stroke-width="2.0" stroke-linecap="butt"/>
<line x1="1520.90" y1="1975.00" x2="1543.90" y2="1975.00" stroke="#231f20" stroke-width="1.8" stroke-linecap="butt"/>
<line x1="1520.90" y1="2110.90" x2="1543.90" y2="2110.90" stroke="#231f20" stroke-width="1.8" stroke-linecap="butt"/>
<rect x="53.05" y="6.05" width="126.90" height="50.90" fill="#f2f2f2" stroke="#231f20" stroke-width="4.1" />
<rect x="142.7" y="273.7" width="485.6" height="129.6" fill="#f8f8f8"/>
<g clip-path="url(#cA1)">
<ellipse cx="508" cy="306" rx="27" ry="6" fill="#3a3a3a" filter="url(#bl3)"/>
<ellipse cx="524" cy="306" rx="13" ry="8" fill="#111" filter="url(#bl2)"/>
<ellipse cx="584" cy="305" rx="25" ry="5" fill="#4a4a4a" filter="url(#bl3)"/>
<ellipse cx="596" cy="304" rx="13" ry="7" fill="#111" filter="url(#bl2)"/>
<ellipse cx="510" cy="368" rx="27" ry="4.5" fill="#3c3c3c" filter="url(#bl3)"/>
<ellipse cx="530" cy="369" rx="8" ry="5.5" fill="#1a1a1a" filter="url(#bl2)"/>
<ellipse cx="566" cy="369" rx="14" ry="4" fill="#555" filter="url(#bl3)"/>
<ellipse cx="592" cy="372" rx="16" ry="3" fill="#9a9a9a" filter="url(#bl3)"/>
<ellipse cx="345" cy="365" rx="24" ry="4" fill="#777" filter="url(#bl3)"/>
<ellipse cx="330" cy="364" rx="9" ry="3.5" fill="#555" filter="url(#bl2)"/>
<ellipse cx="391" cy="365.5" rx="3" ry="3" fill="#555" filter="url(#bl2)"/>
<ellipse cx="426" cy="366.5" rx="22" ry="3" fill="#c8c8c8" filter="url(#bl3)"/>
<ellipse cx="189" cy="365" rx="24" ry="4" fill="#c4c4c4" filter="url(#bl3)"/>
<ellipse cx="270" cy="365.5" rx="24" ry="3.5" fill="#dedede" filter="url(#bl3)"/>
</g>
<rect x="142.70" y="273.70" width="485.60" height="129.60" fill="none" stroke="#231f20" stroke-width="3.4" />
<rect x="142.7" y="416.2" width="485.6" height="84.4" fill="url(#gA2)"/>
<g clip-path="url(#cA2)">
<path d="M156 449 C175 460 205 460 222 449 C245 452 275 455 298 445 C320 452 350 458 385 445 C405 452 440 455 482 447 C500 462 525 462 548 449 C565 462 595 458 618 452" fill="none" stroke="#8a8a8a" stroke-width="24" stroke-linecap="round" stroke-linejoin="round" filter="url(#bl5)" opacity="0.55"/>
<path d="M158 450 C175 460 205 460 222 450 C245 453 275 456 298 446 C320 453 350 459 385 446 C405 453 440 456 482 448" fill="none" stroke="#202020" stroke-width="12.5" stroke-linecap="round" stroke-linejoin="round" filter="url(#bl2)"/>
<path d="M484 449 C500 463 525 463 548 451 C565 463 595 459 616 453" fill="none" stroke="#3a3a3a" stroke-width="12" stroke-linecap="round" stroke-linejoin="round" filter="url(#bl2)"/>
</g>
<rect x="142.70" y="416.20" width="485.60" height="84.40" fill="none" stroke="#231f20" stroke-width="3.4" />
<rect x="898.75" y="3.45" width="126.20" height="50.30" fill="#f2f2f2" stroke="#231f20" stroke-width="4.1" />
<line x1="1047.30" y1="99.10" x2="1047.30" y2="409.70" stroke="#231f20" stroke-width="3.4" stroke-linecap="butt"/>
<line x1="1034.20" y1="408.00" x2="1259.50" y2="408.00" stroke="#231f20" stroke-width="3.4" stroke-linecap="butt"/>
<line x1="1034.20" y1="408.00" x2="1047.30" y2="408.00" stroke="#231f20" stroke-width="3.4" stroke-linecap="butt"/>
<line x1="1034.20" y1="346.56" x2="1047.30" y2="346.56" stroke="#231f20" stroke-width="3.4" stroke-linecap="butt"/>
<line x1="1034.20" y1="285.12" x2="1047.30" y2="285.12" stroke="#231f20" stroke-width="3.4" stroke-linecap="butt"/>
<line x1="1034.20" y1="223.68" x2="1047.30" y2="223.68" stroke="#231f20" stroke-width="3.4" stroke-linecap="butt"/>
<line x1="1034.20" y1="162.24" x2="1047.30" y2="162.24" stroke="#231f20" stroke-width="3.4" stroke-linecap="butt"/>
<line x1="1034.20" y1="100.80" x2="1047.30" y2="100.80" stroke="#231f20" stroke-width="3.4" stroke-linecap="butt"/>
<line x1="1079.00" y1="408.00" x2="1079.00" y2="421.00" stroke="#231f20" stroke-width="3.4" stroke-linecap="butt"/>
<line x1="1127.70" y1="408.00" x2="1127.70" y2="421.00" stroke="#231f20" stroke-width="3.4" stroke-linecap="butt"/>
<line x1="1176.20" y1="408.00" x2="1176.20" y2="421.00" stroke="#231f20" stroke-width="3.4" stroke-linecap="butt"/>
<line x1="1224.60" y1="408.00" x2="1224.60" y2="421.00" stroke="#231f20" stroke-width="3.4" stroke-linecap="butt"/>
<line x1="1080.40" y1="311.30" x2="1128.50" y2="311.30" stroke="#231f20" stroke-width="4.6" stroke-linecap="butt"/>
<line x1="1090.00" y1="132.50" x2="1175.90" y2="132.50" stroke="#231f20" stroke-width="4.6" stroke-linecap="butt"/>
<line x1="1183.50" y1="132.50" x2="1231.70" y2="132.50" stroke="#231f20" stroke-width="4.6" stroke-linecap="butt"/>
<rect x="1294.35" y="3.05" width="127.10" height="49.60" fill="#f2f2f2" stroke="#231f20" stroke-width="4.1" />
<line x1="1441.50" y1="113.80" x2="1441.50" y2="415.40" stroke="#231f20" stroke-width="3.4" stroke-linecap="butt"/>
<line x1="1428.30" y1="413.70" x2="1592.70" y2="413.70" stroke="#231f20" stroke-width="3.4" stroke-linecap="butt"/>
<line x1="1428.30" y1="413.70" x2="1441.50" y2="413.70" stroke="#231f20" stroke-width="3.4" stroke-linecap="butt"/>
<line x1="1428.30" y1="314.30" x2="1441.50" y2="314.30" stroke="#231f20" stroke-width="3.4" stroke-linecap="butt"/>
<line x1="1428.30" y1="214.90" x2="1441.50" y2="214.90" stroke="#231f20" stroke-width="3.4" stroke-linecap="butt"/>
<line x1="1428.30" y1="115.50" x2="1441.50" y2="115.50" stroke="#231f20" stroke-width="3.4" stroke-linecap="butt"/>
<line x1="1483.60" y1="413.70" x2="1483.60" y2="426.50" stroke="#231f20" stroke-width="3.4" stroke-linecap="butt"/>
<line x1="1548.20" y1="413.70" x2="1548.20" y2="426.50" stroke="#231f20" stroke-width="3.4" stroke-linecap="butt"/>
<line x1="1487.00" y1="131.50" x2="1553.90" y2="131.50" stroke="#231f20" stroke-width="4.6" stroke-linecap="butt"/>
<rect x="1606.85" y="12.85" width="127.10" height="50.10" fill="#f2f2f2" stroke="#231f20" stroke-width="4.1" />
<line x1="1784.20" y1="107.90" x2="1784.20" y2="413.10" stroke="#231f20" stroke-width="3.4" stroke-linecap="butt"/>
<line x1="1771.50" y1="411.40" x2="1949.00" y2="411.40" stroke="#231f20" stroke-width="3.4" stroke-linecap="butt"/>
<line x1="1771.50" y1="411.40" x2="1784.20" y2="411.40" stroke="#231f20" stroke-width="3.4" stroke-linecap="butt"/>
<line x1="1771.50" y1="310.80" x2="1784.20" y2="310.80" stroke="#231f20" stroke-width="3.4" stroke-linecap="butt"/>
<line x1="1771.50" y1="210.20" x2="1784.20" y2="210.20" stroke="#231f20" stroke-width="3.4" stroke-linecap="butt"/>
<line x1="1771.50" y1="109.60" x2="1784.20" y2="109.60" stroke="#231f20" stroke-width="3.4" stroke-linecap="butt"/>
<line x1="1830.80" y1="411.40" x2="1830.80" y2="424.60" stroke="#231f20" stroke-width="3.4" stroke-linecap="butt"/>
<line x1="1901.00" y1="411.40" x2="1901.00" y2="424.60" stroke="#231f20" stroke-width="3.4" stroke-linecap="butt"/>
<line x1="1831.70" y1="140.60" x2="1901.30" y2="140.60" stroke="#231f20" stroke-width="4.6" stroke-linecap="butt"/>
<rect x="208.40" y="623.20" width="32.60" height="15.60" fill="#d5d6d8" />
<rect x="350.70" y="623.20" width="32.00" height="15.60" fill="#808285" />
<line x1="249.00" y1="661.80" x2="249.00" y2="1011.20" stroke="#231f20" stroke-width="4.4" stroke-linecap="butt"/>
<line x1="234.50" y1="1009.00" x2="472.00" y2="1009.00" stroke="#231f20" stroke-width="4.4" stroke-linecap="butt"/>
<line x1="234.50" y1="1009.00" x2="249.00" y2="1009.00" stroke="#231f20" stroke-width="4.4" stroke-linecap="butt"/>
<line x1="234.50" y1="894.00" x2="249.00" y2="894.00" stroke="#231f20" stroke-width="4.4" stroke-linecap="butt"/>
<line x1="234.50" y1="779.00" x2="249.00" y2="779.00" stroke="#231f20" stroke-width="4.4" stroke-linecap="butt"/>
<line x1="234.50" y1="664.00" x2="249.00" y2="664.00" stroke="#231f20" stroke-width="4.4" stroke-linecap="butt"/>
<line x1="301.00" y1="1009.00" x2="301.00" y2="1025.50" stroke="#231f20" stroke-width="4.4" stroke-linecap="butt"/>
<line x1="418.70" y1="1009.00" x2="418.70" y2="1025.50" stroke="#231f20" stroke-width="4.4" stroke-linecap="butt"/>
<line x1="279.30" y1="746.00" x2="320.00" y2="746.00" stroke="#231f20" stroke-width="5.4" stroke-linecap="butt"/>
<line x1="396.90" y1="702.70" x2="437.10" y2="702.70" stroke="#231f20" stroke-width="5.4" stroke-linecap="butt"/>
<rect x="579.55" y="576.25" width="127.40" height="50.60" fill="#f2f2f2" stroke="#231f20" stroke-width="4.1" />
<line x1="726.30" y1="670.20" x2="726.30" y2="1016.30" stroke="#231f20" stroke-width="3.8" stroke-linecap="butt"/>
<line x1="712.00" y1="1014.40" x2="955.70" y2="1014.40" stroke="#231f20" stroke-width="3.8" stroke-linecap="butt"/>
<line x1="712.00" y1="1014.40" x2="726.30" y2="1014.40" stroke="#231f20" stroke-width="3.8" stroke-linecap="butt"/>
<line x1="712.00" y1="900.30" x2="726.30" y2="900.30" stroke="#231f20" stroke-width="3.8" stroke-linecap="butt"/>
<line x1="712.00" y1="786.20" x2="726.30" y2="786.20" stroke="#231f20" stroke-width="3.8" stroke-linecap="butt"/>
<line x1="712.00" y1="672.10" x2="726.30" y2="672.10" stroke="#231f20" stroke-width="3.8" stroke-linecap="butt"/>
<line x1="771.40" y1="1014.40" x2="771.40" y2="1029.20" stroke="#231f20" stroke-width="3.8" stroke-linecap="butt"/>
<line x1="839.70" y1="1014.40" x2="839.70" y2="1029.20" stroke="#231f20" stroke-width="3.8" stroke-linecap="butt"/>
<line x1="908.00" y1="1014.40" x2="908.00" y2="1029.20" stroke="#231f20" stroke-width="3.8" stroke-linecap="butt"/>
<line x1="772.30" y1="732.00" x2="836.00" y2="732.00" stroke="#231f20" stroke-width="5.4" stroke-linecap="butt"/>
<line x1="836.60" y1="803.50" x2="900.40" y2="803.50" stroke="#231f20" stroke-width="5.4" stroke-linecap="butt"/>
<rect x="1075.05" y="573.35" width="127.40" height="50.40" fill="#f2f2f2" stroke="#231f20" stroke-width="4.1" />
<line x1="1177.00" y1="651.40" x2="1177.00" y2="999.00" stroke="#231f20" stroke-width="3.8" stroke-linecap="butt"/>
<line x1="1162.80" y1="997.10" x2="1360.70" y2="997.10" stroke="#231f20" stroke-width="3.8" stroke-linecap="butt"/>
<line x1="1162.80" y1="997.10" x2="1177.00" y2="997.10" stroke="#231f20" stroke-width="3.8" stroke-linecap="butt"/>
<line x1="1162.80" y1="882.50" x2="1177.00" y2="882.50" stroke="#231f20" stroke-width="3.8" stroke-linecap="butt"/>
<line x1="1162.80" y1="767.90" x2="1177.00" y2="767.90" stroke="#231f20" stroke-width="3.8" stroke-linecap="butt"/>
<line x1="1162.80" y1="653.30" x2="1177.00" y2="653.30" stroke="#231f20" stroke-width="3.8" stroke-linecap="butt"/>
<line x1="1228.90" y1="997.10" x2="1228.90" y2="1012.00" stroke="#231f20" stroke-width="3.8" stroke-linecap="butt"/>
<line x1="1306.80" y1="997.10" x2="1306.80" y2="1012.00" stroke="#231f20" stroke-width="3.8" stroke-linecap="butt"/>
<line x1="1243.00" y1="710.00" x2="1300.30" y2="710.00" stroke="#231f20" stroke-width="5.4" stroke-linecap="butt"/>
<line x1="1568.90" y1="622.50" x2="1858.00" y2="622.50" stroke="#231f20" stroke-width="4.4" stroke-linecap="butt"/>
<rect x="1552.7" y="687.7" width="99.70000000000005" height="352.79999999999995" fill="url(#gH1bg)"/>
<g clip-path="url(#cgH1)"><g filter="url(#fgH1)">
<rect x="1560" y="853" width="39" height="187" fill="url(#gH1l0)"/>
<rect x="1561" y="884.5" width="37" height="5" fill="#b4b4b4" opacity="0.44"/>
<rect x="1561" y="901.0" width="37" height="4" fill="#bcbcbc" opacity="0.39"/>
<rect x="1561" y="919.0" width="37" height="4" fill="#c0c0c0" opacity="0.39"/>
<rect x="1561" y="936.0" width="37" height="4" fill="#b8b8b8" opacity="0.44"/>
<rect x="1561" y="950.5" width="37" height="3" fill="#c4c4c4" opacity="0.33"/>
<rect x="1561" y="963.5" width="37" height="5" fill="#b4b4b4" opacity="0.44"/>
<rect x="1561" y="980.0" width="37" height="4" fill="#bcbcbc" opacity="0.39"/>
<rect x="1561" y="996.5" width="37" height="5" fill="#b0b0b0" opacity="0.44"/>
<rect x="1561" y="1010.0" width="37" height="4" fill="#c8c8c8" opacity="0.33"/>
<path d="M1555.3 850 H1602.6 V862 Q1602.6 872 1586.9499999999998 872 H1570.9499999999998 Q1555.3 872 1555.3 862 Z" fill="#98999c"/>
<rect x="1555.3" y="688" width="47.299999999999955" height="165" fill="url(#gH1u0)"/>
<rect x="1609" y="853" width="36" height="187" fill="url(#gH1l1)"/>
<rect x="1610" y="884.5" width="34" height="5" fill="#b4b4b4" opacity="0.44"/>
<rect x="1610" y="901.0" width="34" height="4" fill="#bcbcbc" opacity="0.39"/>
<rect x="1610" y="919.0" width="34" height="4" fill="#c0c0c0" opacity="0.39"/>
<rect x="1610" y="936.0" width="34" height="4" fill="#b8b8b8" opacity="0.44"/>
<rect x="1610" y="950.5" width="34" height="3" fill="#c4c4c4" opacity="0.33"/>
<rect x="1610" y="963.5" width="34" height="5" fill="#b4b4b4" opacity="0.44"/>
<rect x="1610" y="980.0" width="34" height="4" fill="#bcbcbc" opacity="0.39"/>
<rect x="1610" y="996.5" width="34" height="5" fill="#b0b0b0" opacity="0.44"/>
<rect x="1610" y="1010.0" width="34" height="4" fill="#c8c8c8" opacity="0.33"/>
<path d="M1604.6 850 H1651.6 V861 Q1651.6 871 1636.1 871 H1620.1 Q1604.6 871 1604.6 861 Z" fill="#9a9b9e"/>
<rect x="1604.6" y="688" width="47.0" height="165" fill="url(#gH1u1)"/>
</g></g>
<rect x="1552.70" y="687.70" width="99.70" height="352.80" fill="none" stroke="#231f20" stroke-width="3.0" />
<rect x="1674.6" y="687.7" width="94.90000000000009" height="350.20000000000005" fill="url(#gH2bg)"/>
<g clip-path="url(#cgH2)"><g filter="url(#fgH2)">
<rect x="1681" y="850" width="33" height="188" fill="url(#gH2l0)"/>
<rect x="1682" y="891.0" width="31" height="4" fill="#b8b8b8" opacity="0.39"/>
<rect x="1682" y="913.0" width="31" height="4" fill="#bcbcbc" opacity="0.33"/>
<rect x="1682" y="936.0" width="31" height="4" fill="#b8b8b8" opacity="0.39"/>
<rect x="1682" y="973.0" width="31" height="4" fill="#b4b4b4" opacity="0.39"/>
<rect x="1682" y="1006.0" width="31" height="4" fill="#c0c0c0" opacity="0.33"/>
<path d="M1677 848 H1717 V860 Q1717 870 1705.0 870 H1689.0 Q1677 870 1677 860 Z" fill="#a4a5a8"/>
<rect x="1677" y="688" width="40" height="162" fill="url(#gH2u0)"/>
<rect x="1726" y="851" width="36" height="187" fill="url(#gH2l1)"/>
<rect x="1727" y="891.0" width="34" height="4" fill="#b8b8b8" opacity="0.39"/>
<rect x="1727" y="913.0" width="34" height="4" fill="#bcbcbc" opacity="0.33"/>
<rect x="1727" y="936.0" width="34" height="4" fill="#b8b8b8" opacity="0.39"/>
<rect x="1727" y="973.0" width="34" height="4" fill="#b4b4b4" opacity="0.39"/>
<rect x="1727" y="1006.0" width="34" height="4" fill="#c0c0c0" opacity="0.33"/>
<path d="M1720.5 849 H1768.5 V862 Q1768.5 872 1752.5 872 H1736.5 Q1720.5 872 1720.5 862 Z" fill="#a0a1a4"/>
<rect x="1720.5" y="688" width="48.0" height="163" fill="url(#gH2u1)"/>
</g></g>
<rect x="1674.60" y="687.70" width="94.90" height="350.20" fill="none" stroke="#231f20" stroke-width="3.0" />
<rect x="1795.2" y="687.7" width="91.29999999999995" height="350.20000000000005" fill="url(#gH3bg)"/>
<g clip-path="url(#cgH3)"><g filter="url(#fgH3)">
<rect x="1802" y="841" width="30" height="197" fill="url(#gH3l0)"/>
<rect x="1803" y="878.0" width="28" height="4" fill="#c4c4c4" opacity="0.39"/>
<rect x="1803" y="898.0" width="28" height="4" fill="#c8c8c8" opacity="0.33"/>
<rect x="1803" y="920.0" width="28" height="4" fill="#c4c4c4" opacity="0.39"/>
<rect x="1803" y="948.0" width="28" height="4" fill="#c8c8c8" opacity="0.33"/>
<rect x="1803" y="976.0" width="28" height="4" fill="#c4c4c4" opacity="0.39"/>
<path d="M1798 839 H1835.5 V851 Q1835.5 861 1824.75 861 H1808.75 Q1798 861 1798 851 Z" fill="#b8b8bb"/>
<rect x="1798" y="688" width="37.5" height="153" fill="url(#gH3u0)"/>
<rect x="1845" y="842" width="34" height="196" fill="url(#gH3l1)"/>
<rect x="1846" y="878.0" width="32" height="4" fill="#c4c4c4" opacity="0.39"/>
<rect x="1846" y="898.0" width="32" height="4" fill="#c8c8c8" opacity="0.33"/>
<rect x="1846" y="920.0" width="32" height="4" fill="#c4c4c4" opacity="0.39"/>
<rect x="1846" y="948.0" width="32" height="4" fill="#c8c8c8" opacity="0.33"/>
<rect x="1846" y="976.0" width="32" height="4" fill="#c4c4c4" opacity="0.39"/>
<path d="M1838.5 840 H1885 V854 Q1885 864 1869.75 864 H1853.75 Q1838.5 864 1838.5 854 Z" fill="#b0b0b3"/>
<rect x="1838.5" y="688" width="46.5" height="154" fill="url(#gH3u1)"/>
</g></g>
<rect x="1795.20" y="687.70" width="91.30" height="350.20" fill="none" stroke="#231f20" stroke-width="3.0" />
<rect x="338.05" y="1182.05" width="127.50" height="50.30" fill="#f2f2f2" stroke="#231f20" stroke-width="4.1" />
<line x1="531.00" y1="1262.88" x2="531.00" y2="1628.90" stroke="#231f20" stroke-width="3.8" stroke-linecap="butt"/>
<line x1="515.80" y1="1627.00" x2="1074.70" y2="1627.00" stroke="#231f20" stroke-width="3.8" stroke-linecap="butt"/>
<line x1="515.80" y1="1627.00" x2="531.00" y2="1627.00" stroke="#231f20" stroke-width="3.8" stroke-linecap="butt"/>
<line x1="515.80" y1="1566.63" x2="531.00" y2="1566.63" stroke="#231f20" stroke-width="3.8" stroke-linecap="butt"/>
<line x1="515.80" y1="1506.26" x2="531.00" y2="1506.26" stroke="#231f20" stroke-width="3.8" stroke-linecap="butt"/>
<line x1="515.80" y1="1445.89" x2="531.00" y2="1445.89" stroke="#231f20" stroke-width="3.8" stroke-linecap="butt"/>
<line x1="515.80" y1="1385.52" x2="531.00" y2="1385.52" stroke="#231f20" stroke-width="3.8" stroke-linecap="butt"/>
<line x1="515.80" y1="1325.15" x2="531.00" y2="1325.15" stroke="#231f20" stroke-width="3.8" stroke-linecap="butt"/>
<line x1="515.80" y1="1264.78" x2="531.00" y2="1264.78" stroke="#231f20" stroke-width="3.8" stroke-linecap="butt"/>
<line x1="565.70" y1="1627.00" x2="565.70" y2="1641.80" stroke="#231f20" stroke-width="3.8" stroke-linecap="butt"/>
<line x1="618.07" y1="1627.00" x2="618.07" y2="1641.80" stroke="#231f20" stroke-width="3.8" stroke-linecap="butt"/>
<line x1="670.44" y1="1627.00" x2="670.44" y2="1641.80" stroke="#231f20" stroke-width="3.8" stroke-linecap="butt"/>
<line x1="722.81" y1="1627.00" x2="722.81" y2="1641.80" stroke="#231f20" stroke-width="3.8" stroke-linecap="butt"/>
<line x1="775.18" y1="1627.00" x2="775.18" y2="1641.80" stroke="#231f20" stroke-width="3.8" stroke-linecap="butt"/>
<line x1="827.55" y1="1627.00" x2="827.55" y2="1641.80" stroke="#231f20" stroke-width="3.8" stroke-linecap="butt"/>
<line x1="879.92" y1="1627.00" x2="879.92" y2="1641.80" stroke="#231f20" stroke-width="3.8" stroke-linecap="butt"/>
<line x1="932.29" y1="1627.00" x2="932.29" y2="1641.80" stroke="#231f20" stroke-width="3.8" stroke-linecap="butt"/>
<line x1="984.66" y1="1627.00" x2="984.66" y2="1641.80" stroke="#231f20" stroke-width="3.8" stroke-linecap="butt"/>
<line x1="1037.03" y1="1627.00" x2="1037.03" y2="1641.80" stroke="#231f20" stroke-width="3.8" stroke-linecap="butt"/>
<path d="M567.7 1298.5 V1246 H833.8 V1273.2" fill="none" stroke="#231f20" stroke-width="5.6" stroke-linejoin="miter"/>
<line x1="618.70" y1="1273.20" x2="1040.70" y2="1273.20" stroke="#231f20" stroke-width="5.6" stroke-linecap="butt"/>
<rect x="1180.05" y="1185.45" width="127.90" height="50.00" fill="#f2f2f2" stroke="#231f20" stroke-width="4.1" />
<line x1="1492.40" y1="1252.70" x2="1492.40" y2="1613.20" stroke="#231f20" stroke-width="3.8" stroke-linecap="butt"/>
<line x1="1477.30" y1="1611.30" x2="1850.70" y2="1611.30" stroke="#231f20" stroke-width="3.8" stroke-linecap="butt"/>
<line x1="1477.30" y1="1611.30" x2="1492.40" y2="1611.30" stroke="#231f20" stroke-width="3.8" stroke-linecap="butt"/>
<line x1="1477.30" y1="1492.40" x2="1492.40" y2="1492.40" stroke="#231f20" stroke-width="3.8" stroke-linecap="butt"/>
<line x1="1477.30" y1="1373.50" x2="1492.40" y2="1373.50" stroke="#231f20" stroke-width="3.8" stroke-linecap="butt"/>
<line x1="1477.30" y1="1254.60" x2="1492.40" y2="1254.60" stroke="#231f20" stroke-width="3.8" stroke-linecap="butt"/>
<line x1="1546.90" y1="1611.30" x2="1546.90" y2="1627.10" stroke="#231f20" stroke-width="3.8" stroke-linecap="butt"/>
<line x1="1629.40" y1="1611.30" x2="1629.40" y2="1627.10" stroke="#231f20" stroke-width="3.8" stroke-linecap="butt"/>
<line x1="1711.60" y1="1611.30" x2="1711.60" y2="1627.10" stroke="#231f20" stroke-width="3.8" stroke-linecap="butt"/>
<line x1="1793.80" y1="1611.30" x2="1793.80" y2="1627.10" stroke="#231f20" stroke-width="3.8" stroke-linecap="butt"/>
<line x1="1548.90" y1="1295.20" x2="1625.10" y2="1295.20" stroke="#231f20" stroke-width="5.4" stroke-linecap="butt"/>
<line x1="1637.90" y1="1398.50" x2="1785.60" y2="1398.50" stroke="#231f20" stroke-width="5.4" stroke-linecap="butt"/>
<line x1="1630.80" y1="1456.80" x2="1711.00" y2="1456.80" stroke="#231f20" stroke-width="5.4" stroke-linecap="butt"/>
<rect x="337.85" y="1799.95" width="127.10" height="50.30" fill="#f2f2f2" stroke="#231f20" stroke-width="4.1" />
<line x1="631.40" y1="1859.90" x2="631.40" y2="2220.05" stroke="#231f20" stroke-width="3.8" stroke-linecap="butt"/>
<line x1="616.10" y1="2218.15" x2="989.70" y2="2218.15" stroke="#231f20" stroke-width="3.8" stroke-linecap="butt"/>
<line x1="616.10" y1="2218.15" x2="631.40" y2="2218.15" stroke="#231f20" stroke-width="3.8" stroke-linecap="butt"/>
<line x1="616.10" y1="2099.37" x2="631.40" y2="2099.37" stroke="#231f20" stroke-width="3.8" stroke-linecap="butt"/>
<line x1="616.10" y1="1980.58" x2="631.40" y2="1980.58" stroke="#231f20" stroke-width="3.8" stroke-linecap="butt"/>
<line x1="616.10" y1="1861.80" x2="631.40" y2="1861.80" stroke="#231f20" stroke-width="3.8" stroke-linecap="butt"/>
<line x1="685.60" y1="2218.15" x2="685.60" y2="2233.95" stroke="#231f20" stroke-width="3.8" stroke-linecap="butt"/>
<line x1="767.80" y1="2218.15" x2="767.80" y2="2233.95" stroke="#231f20" stroke-width="3.8" stroke-linecap="butt"/>
<line x1="850.00" y1="2218.15" x2="850.00" y2="2233.95" stroke="#231f20" stroke-width="3.8" stroke-linecap="butt"/>
<line x1="932.50" y1="2218.15" x2="932.50" y2="2233.95" stroke="#231f20" stroke-width="3.8" stroke-linecap="butt"/>
<line x1="687.90" y1="1936.70" x2="763.80" y2="1936.70" stroke="#231f20" stroke-width="5.4" stroke-linecap="butt"/>
<line x1="777.20" y1="2018.60" x2="924.50" y2="2018.60" stroke="#231f20" stroke-width="5.4" stroke-linecap="butt"/>
<line x1="770.00" y1="2063.70" x2="849.40" y2="2063.70" stroke="#231f20" stroke-width="5.4" stroke-linecap="butt"/>
<rect x="1177.85" y="1797.65" width="127.10" height="50.30" fill="#f2f2f2" stroke="#231f20" stroke-width="4.1" />
<line x1="1419.00" y1="1863.90" x2="1419.00" y2="2244.40" stroke="#231f20" stroke-width="3.8" stroke-linecap="butt"/>
<line x1="1403.40" y1="2242.50" x2="1579.80" y2="2242.50" stroke="#231f20" stroke-width="3.8" stroke-linecap="butt"/>
<line x1="1403.40" y1="2242.50" x2="1419.00" y2="2242.50" stroke="#231f20" stroke-width="3.8" stroke-linecap="butt"/>
<line x1="1403.40" y1="2167.16" x2="1419.00" y2="2167.16" stroke="#231f20" stroke-width="3.8" stroke-linecap="butt"/>
<line x1="1403.40" y1="2091.82" x2="1419.00" y2="2091.82" stroke="#231f20" stroke-width="3.8" stroke-linecap="butt"/>
<line x1="1403.40" y1="2016.48" x2="1419.00" y2="2016.48" stroke="#231f20" stroke-width="3.8" stroke-linecap="butt"/>
<line x1="1403.40" y1="1941.14" x2="1419.00" y2="1941.14" stroke="#231f20" stroke-width="3.8" stroke-linecap="butt"/>
<line x1="1403.40" y1="1865.80" x2="1419.00" y2="1865.80" stroke="#231f20" stroke-width="3.8" stroke-linecap="butt"/>
<line x1="1463.80" y1="2242.50" x2="1463.80" y2="2258.60" stroke="#231f20" stroke-width="3.8" stroke-linecap="butt"/>
<line x1="1532.40" y1="2242.50" x2="1532.40" y2="2258.60" stroke="#231f20" stroke-width="3.8" stroke-linecap="butt"/>
<line x1="1465.00" y1="1930.80" x2="1529.00" y2="1930.80" stroke="#231f20" stroke-width="5.4" stroke-linecap="butt"/>
<text transform="translate(0.00 53.70) scale(0.9164 1.0000) translate(-1.08 0.00)" font-size="69.2" font-weight="bold">A</text>
<text transform="translate(76.90 42.20) scale(0.9847 1.0000) translate(-1.88 0.00)" font-size="30" font-weight="bold">HuH7</text>
<text transform="translate(57.80 122.40) scale(0.7851 1.0000) translate(-1.69 -0.84)" font-size="54" font-weight="bold">CF</text>
<text transform="translate(56.50 186.00) scale(0.8496 1.0000) translate(0.00 -0.84)" font-size="54" font-weight="bold">TG</text>
<text transform="translate(27.50 242.00) scale(0.9665 1.0000) translate(-2.53 -0.84)" font-size="54" font-weight="bold">U18</text>
<text transform="translate(201.50 108.50) scale(1.0952 1.0000) translate(-7.22 11.69)" font-size="44" stroke="#231f20" stroke-width="0.7" stroke-linejoin="round">-</text>
<text transform="translate(270.00 105.50) translate(-14.25 15.75)" font-size="48" stroke="#231f20" stroke-width="0.6" stroke-linejoin="round">+</text>
<text transform="translate(365.00 104.20) scale(1.0952 1.0000) translate(-7.22 11.69)" font-size="44" stroke="#231f20" stroke-width="0.7" stroke-linejoin="round">-</text>
<text transform="translate(437.00 103.00) translate(-14.25 15.75)" font-size="48" stroke="#231f20" stroke-width="0.6" stroke-linejoin="round">+</text>
<text transform="translate(516.00 105.20) scale(1.0952 1.0000) translate(-7.22 11.69)" font-size="44" stroke="#231f20" stroke-width="0.7" stroke-linejoin="round">-</text>
<text transform="translate(587.60 106.50) translate(-14.25 15.75)" font-size="48" stroke="#231f20" stroke-width="0.6" stroke-linejoin="round">+</text>
<text transform="translate(203.00 170.20) scale(1.0952 1.0000) translate(-7.22 11.69)" font-size="44" stroke="#231f20" stroke-width="0.7" stroke-linejoin="round">-</text>
<text transform="translate(267.00 167.20) scale(1.0952 1.0000) translate(-7.22 11.69)" font-size="44" stroke="#231f20" stroke-width="0.7" stroke-linejoin="round">-</text>
<text transform="translate(363.60 166.00) translate(-14.25 15.75)" font-size="48" stroke="#231f20" stroke-width="0.6" stroke-linejoin="round">+</text>
<text transform="translate(438.00 165.40) translate(-14.25 15.75)" font-size="48" stroke="#231f20" stroke-width="0.6" stroke-linejoin="round">+</text>
<text transform="translate(517.00 171.50) scale(1.0952 1.0000) translate(-7.22 11.69)" font-size="44" stroke="#231f20" stroke-width="0.7" stroke-linejoin="round">-</text>
<text transform="translate(590.30 171.70) scale(1.0952 1.0000) translate(-7.22 11.69)" font-size="44" stroke="#231f20" stroke-width="0.7" stroke-linejoin="round">-</text>
<text transform="translate(204.80 234.70) scale(1.0952 1.0000) translate(-7.22 11.69)" font-size="44" stroke="#231f20" stroke-width="0.7" stroke-linejoin="round">-</text>
<text transform="translate(268.30 235.50) scale(1.0952 1.0000) translate(-7.22 11.69)" font-size="44" stroke="#231f20" stroke-width="0.7" stroke-linejoin="round">-</text>
<text transform="translate(366.00 237.50) scale(1.0952 1.0000) translate(-7.22 11.69)" font-size="44" stroke="#231f20" stroke-width="0.7" stroke-linejoin="round">-</text>
<text transform="translate(432.00 233.20) scale(1.0952 1.0000) translate(-7.22 11.69)" font-size="44" stroke="#231f20" stroke-width="0.7" stroke-linejoin="round">-</text>
<text transform="translate(515.30 230.70) translate(-14.25 15.75)" font-size="48" stroke="#231f20" stroke-width="0.6" stroke-linejoin="round">+</text>
<text transform="translate(587.60 230.70) translate(-14.25 15.75)" font-size="48" stroke="#231f20" stroke-width="0.6" stroke-linejoin="round">+</text>
<text transform="translate(59.50 316.70) scale(0.9860 1.0000) translate(-1.44 -0.72)" font-size="46" font-weight="bold">75 -</text>
<text transform="translate(61.00 375.60) scale(0.9847 1.0000) translate(-1.44 -0.72)" font-size="46" font-weight="bold">63 -</text>
<text transform="translate(56.70 455.60) scale(0.9678 1.0000) translate(0.00 -0.72)" font-size="46" font-weight="bold">48 -</text>
<text transform="translate(50.50 516.50) scale(0.9144 1.0000) translate(-2.88 -0.72)" font-size="46" font-weight="bold">kDa</text>
<text transform="translate(639.00 319.50) scale(0.8893 1.0000) translate(-1.44 0.00)" font-size="46" font-weight="bold">- proPCSK9</text>
<text transform="translate(639.00 383.00) scale(0.8586 1.0000) translate(-1.44 -0.72)" font-size="46" font-weight="bold">- PCSK9</text>
<text transform="translate(641.00 475.40) scale(0.9532 1.0000) translate(-1.44 0.00)" font-size="46" font-weight="bold">- β-actin</text>
<text transform="translate(841.40 52.40) scale(0.8461 1.0000) translate(-4.12 0.00)" font-size="66.0" font-weight="bold">B</text>
<text transform="translate(920.80 38.30) scale(1.0969 1.0000) translate(-1.81 0.00)" font-size="29" font-weight="bold">PMH</text>
<text transform="translate(1029.70 408.40) scale(1.0000 1.0400) translate(-16.76 11.17)" font-size="32.5" font-weight="bold" stroke="#231f20" stroke-width="0.5" stroke-linejoin="round">0</text>
<text transform="translate(1029.70 346.96) scale(1.0000 1.0400) translate(-17.27 11.43)" font-size="32.5" font-weight="bold" stroke="#231f20" stroke-width="0.5" stroke-linejoin="round">1</text>
<text transform="translate(1029.70 285.52) scale(1.0000 1.0400) translate(-17.27 11.43)" font-size="32.5" font-weight="bold" stroke="#231f20" stroke-width="0.5" stroke-linejoin="round">2</text>
<text transform="translate(1029.70 224.08) scale(1.0000 1.0400) translate(-17.27 11.17)" font-size="32.5" font-weight="bold" stroke="#231f20" stroke-width="0.5" stroke-linejoin="round">3</text>
<text transform="translate(1029.70 162.64) scale(1.0000 1.0400) translate(-18.28 11.43)" font-size="32.5" font-weight="bold" stroke="#231f20" stroke-width="0.5" stroke-linejoin="round">4</text>
<text transform="translate(1029.70 101.20) scale(1.0000 1.0400) translate(-17.27 11.17)" font-size="32.5" font-weight="bold" stroke="#231f20" stroke-width="0.5" stroke-linejoin="round">5</text>
<text class="fD" transform="translate(1105.00 292.00) translate(-16.77 15.21)" font-size="29.5" letter-spacing="4.05" stroke="#231f20" stroke-width="0.7" stroke-linejoin="round">**</text>
<text class="fD" transform="translate(1133.50 112.50) translate(-16.77 15.21)" font-size="29.5" letter-spacing="4.05" stroke="#231f20" stroke-width="0.7" stroke-linejoin="round">**</text>
<text class="fD" transform="translate(1208.20 112.50) translate(-16.77 15.21)" font-size="29.5" letter-spacing="4.05" stroke="#231f20" stroke-width="0.7" stroke-linejoin="round">**</text>
<text transform="translate(930.00 299.00) rotate(-90) scale(1.0000 1.0200) translate(-191.08 0.00)" font-size="32.5" font-weight="bold" stroke="#231f20" stroke-width="0.5" stroke-linejoin="round">Fold Induction of PCSK9</text>
<text transform="translate(971.50 298.50) rotate(-90) translate(-206.29 0.00)" font-size="32.5" font-weight="bold" stroke="#231f20" stroke-width="0.5" stroke-linejoin="round">mRNA (Normalized to 18S)</text>
<text transform="translate(1044.00 463.60) translate(-42.26 -0.51)" font-size="32.5" font-weight="bold" stroke="#231f20" stroke-width="0.5" stroke-linejoin="round">CF</text>
<text transform="translate(1046.00 516.00) translate(-43.21 -0.51)" font-size="32.5" font-weight="bold" stroke="#231f20" stroke-width="0.5" stroke-linejoin="round">TG</text>
<text transform="translate(1079.80 455.30) translate(-5.33 8.38)" font-size="32.5" font-weight="bold" stroke="#231f20" stroke-width="0.5" stroke-linejoin="round">-</text>
<text transform="translate(1079.80 507.70) translate(-5.33 8.38)" font-size="32.5" font-weight="bold" stroke="#231f20" stroke-width="0.5" stroke-linejoin="round">-</text>
<text transform="translate(1128.50 453.00) translate(-9.39 10.92)" font-size="32.5" font-weight="bold" stroke="#231f20" stroke-width="0.5" stroke-linejoin="round">+</text>
<text transform="translate(1128.50 507.70) translate(-5.33 8.38)" font-size="32.5" font-weight="bold" stroke="#231f20" stroke-width="0.5" stroke-linejoin="round">-</text>
<text transform="translate(1177.00 455.30) translate(-5.33 8.38)" font-size="32.5" font-weight="bold" stroke="#231f20" stroke-width="0.5" stroke-linejoin="round">-</text>
<text transform="translate(1177.00 507.70) translate(-5.33 8.38)" font-size="32.5" font-weight="bold" stroke="#231f20" stroke-width="0.5" stroke-linejoin="round">-</text>
<text transform="translate(1225.40 453.00) translate(-9.39 10.92)" font-size="32.5" font-weight="bold" stroke="#231f20" stroke-width="0.5" stroke-linejoin="round">+</text>
<text transform="translate(1225.40 505.40) translate(-9.39 10.92)" font-size="32.5" font-weight="bold" stroke="#231f20" stroke-width="0.5" stroke-linejoin="round">+</text>
<text transform="translate(1233.60 54.40) scale(0.8045 1.0000) translate(-2.08 -1.04)" font-size="66.6" font-weight="bold">C</text>
<text transform="translate(1327.00 38.30) scale(1.0086 1.0000) translate(-1.81 0.00)" font-size="29" font-weight="bold">PHH</text>
<text transform="translate(1423.80 414.10) scale(1.0000 1.0400) translate(-42.92 10.93)" font-size="31.8" font-weight="bold" stroke="#231f20" stroke-width="0.5" stroke-linejoin="round">0.0</text>
<text transform="translate(1423.80 314.70) scale(1.0000 1.0400) translate(-43.41 10.93)" font-size="31.8" font-weight="bold" stroke="#231f20" stroke-width="0.5" stroke-linejoin="round">0.5</text>
<text transform="translate(1423.80 215.30) scale(1.0000 1.0400) translate(-42.92 10.93)" font-size="31.8" font-weight="bold" stroke="#231f20" stroke-width="0.5" stroke-linejoin="round">1.0</text>
<text transform="translate(1423.80 115.90) scale(1.0000 1.0400) translate(-43.41 10.93)" font-size="31.8" font-weight="bold" stroke="#231f20" stroke-width="0.5" stroke-linejoin="round">1.5</text>
<text class="fD" transform="translate(1521.20 112.60) translate(-26.18 15.21)" font-size="29.5" letter-spacing="4.05" stroke="#231f20" stroke-width="0.7" stroke-linejoin="round">***</text>
<text transform="translate(1327.00 301.00) rotate(-90) scale(1.0000 1.0200) translate(-186.96 0.00)" font-size="31.8" font-weight="bold" stroke="#231f20" stroke-width="0.5" stroke-linejoin="round">Fold Induction of PCSK9</text>
<text transform="translate(1368.00 300.80) rotate(-90) translate(-201.85 0.00)" font-size="31.8" font-weight="bold" stroke="#231f20" stroke-width="0.5" stroke-linejoin="round">mRNA (Normalized to 18S)</text>
<text transform="translate(1455.10 478.90) rotate(-38) scale(0.9700 1.0000) translate(-56.46 11.86)" font-size="33" font-weight="bold" stroke="#231f20" stroke-width="0.5" stroke-linejoin="round">Vehicle</text>
<text transform="translate(1550.60 457.70) rotate(-38) translate(-21.07 10.88)" font-size="31.653999999999996" font-weight="bold" stroke="#231f20" stroke-width="0.5" stroke-linejoin="round">CF</text>
<text transform="translate(1538.40 58.30) scale(0.9702 1.0000) translate(-4.11 0.00)" font-size="65.8" font-weight="bold">D</text>
<text transform="translate(1624.30 46.00) scale(1.0227 1.0000) translate(-1.81 0.00)" font-size="29" font-weight="bold">HepG2</text>
<text transform="translate(1767.00 411.80) scale(1.0000 1.0400) translate(-42.92 10.93)" font-size="31.8" font-weight="bold" stroke="#231f20" stroke-width="0.5" stroke-linejoin="round">0.0</text>
<text transform="translate(1767.00 311.20) scale(1.0000 1.0400) translate(-43.41 10.93)" font-size="31.8" font-weight="bold" stroke="#231f20" stroke-width="0.5" stroke-linejoin="round">0.5</text>
<text transform="translate(1767.00 210.60) scale(1.0000 1.0400) translate(-42.92 10.93)" font-size="31.8" font-weight="bold" stroke="#231f20" stroke-width="0.5" stroke-linejoin="round">1.0</text>
<text transform="translate(1767.00 110.00) scale(1.0000 1.0400) translate(-43.41 10.93)" font-size="31.8" font-weight="bold" stroke="#231f20" stroke-width="0.5" stroke-linejoin="round">1.5</text>
<text class="fD" transform="translate(1868.70 121.20) translate(-35.58 15.21)" font-size="29.5" letter-spacing="4.05" stroke="#231f20" stroke-width="0.7" stroke-linejoin="round">****</text>
<text transform="translate(1668.50 304.40) rotate(-90) scale(1.0000 1.0200) translate(-186.96 0.00)" font-size="31.8" font-weight="bold" stroke="#231f20" stroke-width="0.5" stroke-linejoin="round">Fold Induction of PCSK9</text>
<text transform="translate(1707.50 304.00) rotate(-90) translate(-201.85 0.00)" font-size="31.8" font-weight="bold" stroke="#231f20" stroke-width="0.5" stroke-linejoin="round">mRNA (Normalized to 18S)</text>
<text transform="translate(1796.00 477.60) rotate(-38) scale(0.9700 1.0000) translate(-56.46 11.86)" font-size="33" font-weight="bold" stroke="#231f20" stroke-width="0.5" stroke-linejoin="round">Vehicle</text>
<text transform="translate(1893.30 455.70) rotate(-38) translate(-21.07 10.88)" font-size="31.653999999999996" font-weight="bold" stroke="#231f20" stroke-width="0.5" stroke-linejoin="round">CF</text>
<text transform="translate(119.10 621.00) scale(0.7581 1.0000) translate(-4.05 0.00)" font-size="64.8" font-weight="bold">E</text>
<text transform="translate(249.20 640.60) scale(0.9428 1.0000) translate(0.00 -0.44)" font-size="28.3" font-weight="bold" stroke="#231f20" stroke-width="0.5" stroke-linejoin="round">Vehicle</text>
<text transform="translate(390.40 640.60) translate(-0.88 0.00)" font-size="28.3" font-weight="bold" stroke="#231f20" stroke-width="0.5" stroke-linejoin="round">CF (1mM)</text>
<text transform="translate(230.00 1009.40) scale(1.0000 1.0400) translate(-34.47 8.85)" font-size="25.5" font-weight="bold" stroke="#231f20" stroke-width="0.5" stroke-linejoin="round">0.0</text>
<text transform="translate(230.00 894.40) scale(1.0000 1.0400) translate(-34.77 8.85)" font-size="25.5" font-weight="bold" stroke="#231f20" stroke-width="0.5" stroke-linejoin="round">0.5</text>
<text transform="translate(230.00 779.40) scale(1.0000 1.0400) translate(-34.47 8.85)" font-size="25.5" font-weight="bold" stroke="#231f20" stroke-width="0.5" stroke-linejoin="round">1.0</text>
<text transform="translate(230.00 664.40) scale(1.0000 1.0400) translate(-34.77 8.70)" font-size="25.5" font-weight="bold" stroke="#231f20" stroke-width="0.5" stroke-linejoin="round">1.5</text>
<text class="fD" transform="translate(301.80 723.00) translate(-41.08 17.27)" font-size="33.5" letter-spacing="5.05" stroke="#231f20" stroke-width="0.7" stroke-linejoin="round">****</text>
<text class="fD" transform="translate(419.40 680.50) translate(-41.08 17.27)" font-size="33.5" letter-spacing="5.05" stroke="#231f20" stroke-width="0.7" stroke-linejoin="round">****</text>
<text transform="translate(136.50 833.00) rotate(-90) translate(-111.19 0.00)" font-size="36.5" font-weight="bold" stroke="#231f20" stroke-width="0.5" stroke-linejoin="round">Fold Change</text>
<text transform="translate(184.50 834.50) rotate(-90) scale(1.0200 1.0350) translate(-142.85 0.00)" font-size="36.5" font-weight="bold" stroke="#231f20" stroke-width="0.5" stroke-linejoin="round">Secreted PCSK9</text>
<text transform="translate(271.70 1080.40) rotate(-38) translate(-50.03 13.06)" font-size="38" font-weight="bold" stroke="#231f20" stroke-width="0.5" stroke-linejoin="round">HuH7</text>
<text transform="translate(386.00 1087.90) rotate(-38) translate(-61.95 9.20)" font-size="38" font-weight="bold" stroke="#231f20" stroke-width="0.5" stroke-linejoin="round">HepG2</text>
<text transform="translate(532.80 624.60) scale(0.7763 1.0000) translate(-4.20 0.00)" font-size="67.2" font-weight="bold">F</text>
<text transform="translate(607.30 611.00) scale(1.0985 1.0000) translate(-1.81 0.00)" font-size="29" font-weight="bold">PMH</text>
<text transform="translate(707.50 1014.80) scale(1.0000 1.0400) translate(-49.94 12.72)" font-size="37" font-weight="bold" stroke="#231f20" stroke-width="0.5" stroke-linejoin="round">0.0</text>
<text transform="translate(707.50 900.70) scale(1.0000 1.0400) translate(-50.51 12.72)" font-size="37" font-weight="bold" stroke="#231f20" stroke-width="0.5" stroke-linejoin="round">0.5</text>
<text transform="translate(707.50 786.60) scale(1.0000 1.0400) translate(-49.94 12.72)" font-size="37" font-weight="bold" stroke="#231f20" stroke-width="0.5" stroke-linejoin="round">1.0</text>
<text transform="translate(707.50 672.50) scale(1.0000 1.0400) translate(-50.51 12.72)" font-size="37" font-weight="bold" stroke="#231f20" stroke-width="0.5" stroke-linejoin="round">1.5</text>
<text class="fD" transform="translate(805.80 710.50) translate(-30.18 17.27)" font-size="33.5" letter-spacing="5.05" stroke="#231f20" stroke-width="0.7" stroke-linejoin="round">***</text>
<text class="fD" transform="translate(870.00 782.00) translate(-30.18 17.27)" font-size="33.5" letter-spacing="5.05" stroke="#231f20" stroke-width="0.7" stroke-linejoin="round">***</text>
<text transform="translate(595.50 841.60) rotate(-90) translate(-111.19 0.00)" font-size="36.5" font-weight="bold" stroke="#231f20" stroke-width="0.5" stroke-linejoin="round">Fold Change</text>
<text transform="translate(641.80 843.00) rotate(-90) scale(1.0200 1.0350) translate(-142.85 0.00)" font-size="36.5" font-weight="bold" stroke="#231f20" stroke-width="0.5" stroke-linejoin="round">Secreted PCSK9</text>
<text transform="translate(568.20 1068.00) translate(-1.13 0.00)" font-size="36.3" font-weight="bold" stroke="#231f20" stroke-width="0.5" stroke-linejoin="round">CF (mM)</text>
<text transform="translate(771.50 1068.00) scale(1.0000 1.0400) translate(-10.12 0.00)" font-size="37" font-weight="bold" stroke="#231f20" stroke-width="0.5" stroke-linejoin="round">0</text>
<text transform="translate(840.20 1068.00) scale(1.0000 1.0400) translate(-25.83 0.00)" font-size="37" font-weight="bold" stroke="#231f20" stroke-width="0.5" stroke-linejoin="round">0.2</text>
<text transform="translate(907.60 1068.00) scale(1.0000 1.0400) translate(-10.41 0.00)" font-size="37" font-weight="bold" stroke="#231f20" stroke-width="0.5" stroke-linejoin="round">2</text>
<text transform="translate(1001.30 624.60) scale(0.8936 1.0000) translate(-2.09 -1.05)" font-size="66.9" font-weight="bold">G</text>
<text transform="translate(1102.40 608.20) scale(1.0121 1.0000) translate(-1.81 0.00)" font-size="29" font-weight="bold">PHH</text>
<text transform="translate(1158.30 997.50) scale(1.0000 1.0400) translate(-51.02 12.99)" font-size="37.8" font-weight="bold" stroke="#231f20" stroke-width="0.5" stroke-linejoin="round">0.0</text>
<text transform="translate(1158.30 882.90) scale(1.0000 1.0400) translate(-51.61 12.99)" font-size="37.8" font-weight="bold" stroke="#231f20" stroke-width="0.5" stroke-linejoin="round">0.5</text>
<text transform="translate(1158.30 768.30) scale(1.0000 1.0400) translate(-51.02 12.99)" font-size="37.8" font-weight="bold" stroke="#231f20" stroke-width="0.5" stroke-linejoin="round">1.0</text>
<text transform="translate(1158.30 653.70) scale(1.0000 1.0400) translate(-51.61 12.99)" font-size="37.8" font-weight="bold" stroke="#231f20" stroke-width="0.5" stroke-linejoin="round">1.5</text>
<text class="fD" transform="translate(1273.50 686.80) translate(-41.08 17.27)" font-size="33.5" letter-spacing="5.05" stroke="#231f20" stroke-width="0.7" stroke-linejoin="round">****</text>
<text transform="translate(1046.00 823.60) rotate(-90) translate(-111.19 0.00)" font-size="36.5" font-weight="bold" stroke="#231f20" stroke-width="0.5" stroke-linejoin="round">Fold Change</text>
<text transform="translate(1093.50 824.60) rotate(-90) scale(1.0200 1.0350) translate(-142.85 0.00)" font-size="36.5" font-weight="bold" stroke="#231f20" stroke-width="0.5" stroke-linejoin="round">Secreted PCSK9</text>
<text transform="translate(1192.70 1072.60) rotate(-38) scale(0.9700 1.0000) translate(-64.50 13.55)" font-size="37.7" font-weight="bold" stroke="#231f20" stroke-width="0.5" stroke-linejoin="round">Vehicle</text>
<text transform="translate(1302.00 1047.80) rotate(-38) translate(-24.66 12.73)" font-size="37.044" font-weight="bold" stroke="#231f20" stroke-width="0.5" stroke-linejoin="round">CF</text>
<text transform="translate(1479.80 605.60) scale(0.9227 1.0000) translate(-4.24 0.00)" font-size="67.9" font-weight="bold">H</text>
<text transform="translate(1652.70 610.80) scale(1.0871 1.0000) translate(-2.75 0.00)" font-size="44" font-weight="bold">1 mM</text>
<text transform="translate(1579.50 661.50) rotate(-45) scale(0.9200 1.0000) translate(-20.91 10.55)" font-size="30" font-weight="bold">NT</text>
<text transform="translate(1638.30 659.00) rotate(-45) scale(0.9200 1.0000) translate(-19.97 10.31)" font-size="30" font-weight="bold">CF</text>
<text transform="translate(1697.60 656.80) rotate(-45) scale(0.9200 1.0000) translate(-20.91 10.55)" font-size="30" font-weight="bold">NT</text>
<text transform="translate(1755.80 655.30) rotate(-45) scale(0.9200 1.0000) translate(-19.97 10.31)" font-size="30" font-weight="bold">CF</text>
<text transform="translate(1816.30 656.10) rotate(-45) scale(0.9200 1.0000) translate(-20.91 10.55)" font-size="30" font-weight="bold">NT</text>
<text transform="translate(1874.70 654.50) rotate(-45) scale(0.9200 1.0000) translate(-19.97 10.31)" font-size="30" font-weight="bold">CF</text>
<text transform="translate(1524.00 868.80) rotate(-90) scale(0.9392 1.0000) translate(-190.39 0.00)" font-size="31" font-weight="bold">Media Coomassie Control</text>
<text transform="translate(1897.60 773.50) scale(0.9897 1.0000) translate(-1.44 -0.72)" font-size="46" font-weight="bold">- 100</text>
<text transform="translate(1897.60 830.80) scale(0.9663 1.0000) translate(-1.44 -0.72)" font-size="46" font-weight="bold">- 75</text>
<text transform="translate(1899.00 888.80) scale(0.9963 1.0000) translate(-1.44 -0.72)" font-size="46" font-weight="bold">- 63</text>
<text transform="translate(1900.70 946.10) scale(0.9742 1.0000) translate(-1.44 -0.72)" font-size="46" font-weight="bold">- 48</text>
<text transform="translate(1902.80 1048.90) scale(0.8676 1.0000) translate(-3.06 -0.77)" font-size="49" font-weight="bold">kDa</text>
<text transform="translate(1570.40 1072.40) scale(0.9454 1.0000) translate(-1.97 0.00)" font-size="31.5" font-weight="bold">HuH7</text>
<text transform="translate(1680.20 1070.20) scale(0.9355 1.0000) translate(-1.97 0.00)" font-size="31.5" font-weight="bold">HepG2</text>
<text transform="translate(1813.20 1068.10) scale(1.0022 1.0000) translate(-1.97 0.00)" font-size="31.5" font-weight="bold">PMH</text>
<text transform="translate(296.40 1231.60) scale(0.9075 1.0000) translate(-4.23 0.00)" font-size="67.7" font-weight="bold">I</text>
<text transform="translate(355.70 1215.40) scale(1.0128 1.0000) translate(-1.81 0.00)" font-size="29" font-weight="bold">HepG2</text>
<text transform="translate(511.30 1627.40) scale(1.0000 1.0400) translate(-52.63 13.41)" font-size="39" font-weight="bold" stroke="#231f20" stroke-width="0.5" stroke-linejoin="round">0.0</text>
<text transform="translate(511.30 1567.03) scale(1.0000 1.0400) translate(-53.24 13.41)" font-size="39" font-weight="bold" stroke="#231f20" stroke-width="0.5" stroke-linejoin="round">0.2</text>
<text transform="translate(511.30 1506.66) scale(1.0000 1.0400) translate(-54.46 13.41)" font-size="39" font-weight="bold" stroke="#231f20" stroke-width="0.5" stroke-linejoin="round">0.4</text>
<text transform="translate(511.30 1446.29) scale(1.0000 1.0400) translate(-53.24 13.41)" font-size="39" font-weight="bold" stroke="#231f20" stroke-width="0.5" stroke-linejoin="round">0.6</text>
<text transform="translate(511.30 1385.92) scale(1.0000 1.0400) translate(-53.24 13.41)" font-size="39" font-weight="bold" stroke="#231f20" stroke-width="0.5" stroke-linejoin="round">0.8</text>
<text transform="translate(511.30 1325.55) scale(1.0000 1.0400) translate(-52.63 13.41)" font-size="39" font-weight="bold" stroke="#231f20" stroke-width="0.5" stroke-linejoin="round">1.0</text>
<text transform="translate(511.30 1265.18) scale(1.0000 1.0400) translate(-53.24 13.71)" font-size="39" font-weight="bold" stroke="#231f20" stroke-width="0.5" stroke-linejoin="round">1.2</text>
<text transform="translate(619.60 1298.20) translate(-16.35 8.00)" font-size="23">NS</text>
<text transform="translate(671.80 1296.60) translate(-8.01 21.14)" font-size="41" stroke="#231f20" stroke-width="0.6" stroke-linejoin="round">*</text>
<text transform="translate(723.40 1292.00) rotate(90) translate(-0.64 21.14)" font-size="41" letter-spacing="4.0" stroke="#231f20" stroke-width="0.6" stroke-linejoin="round">**</text>
<text transform="translate(773.00 1285.40) rotate(90) translate(-0.64 21.14)" font-size="41" letter-spacing="4.0" stroke="#231f20" stroke-width="0.6" stroke-linejoin="round">***</text>
<text transform="translate(827.60 1286.30) rotate(90) translate(-0.64 21.14)" font-size="41" letter-spacing="4.0" stroke="#231f20" stroke-width="0.6" stroke-linejoin="round">****</text>
<text transform="translate(882.20 1285.00) rotate(90) translate(-0.64 21.14)" font-size="41" letter-spacing="4.0" stroke="#231f20" stroke-width="0.6" stroke-linejoin="round">****</text>
<text transform="translate(935.30 1286.30) rotate(90) translate(-0.64 21.14)" font-size="41" letter-spacing="4.0" stroke="#231f20" stroke-width="0.6" stroke-linejoin="round">****</text>
<text transform="translate(984.20 1285.00) rotate(90) translate(-0.64 21.14)" font-size="41" letter-spacing="4.0" stroke="#231f20" stroke-width="0.6" stroke-linejoin="round">****</text>
<text transform="translate(1031.80 1286.30) rotate(90) translate(-0.64 21.14)" font-size="41" letter-spacing="4.0" stroke="#231f20" stroke-width="0.6" stroke-linejoin="round">****</text>
<text transform="translate(389.00 1444.00) rotate(-90) translate(-116.37 0.00)" font-size="38.2" font-weight="bold" stroke="#231f20" stroke-width="0.5" stroke-linejoin="round">Fold Change</text>
<text transform="translate(439.50 1445.40) rotate(-90) scale(1.0200 1.0350) translate(-149.51 0.00)" font-size="38.2" font-weight="bold" stroke="#231f20" stroke-width="0.5" stroke-linejoin="round">Secreted PCSK9</text>
<text transform="translate(365.60 1689.60) translate(-1.19 0.00)" font-size="38" font-weight="bold" stroke="#231f20" stroke-width="0.5" stroke-linejoin="round">CF (nM)</text>
<text transform="translate(563.80 1663.80) rotate(-41) scale(1.0000 1.0400) translate(-10.66 13.41)" font-size="39" font-weight="bold" stroke="#231f20" stroke-width="0.5" stroke-linejoin="round">0</text>
<text transform="translate(619.50 1671.40) rotate(-41) scale(1.0000 1.0400) translate(-11.58 13.71)" font-size="39" font-weight="bold" stroke="#231f20" stroke-width="0.5" stroke-linejoin="round">1</text>
<text transform="translate(671.40 1677.80) rotate(-41) scale(1.0000 1.0400) translate(-22.12 13.41)" font-size="39" font-weight="bold" stroke="#231f20" stroke-width="0.5" stroke-linejoin="round">10</text>
<text transform="translate(716.00 1692.00) rotate(-41) scale(1.0000 1.0400) translate(-22.12 13.41)" font-size="39" font-weight="bold" stroke="#231f20" stroke-width="0.5" stroke-linejoin="round">10</text>
<text transform="translate(723.00 1659.80) rotate(-41) scale(1.0000 1.0400) translate(-8.44 10.55)" font-size="30" font-weight="bold" stroke="#231f20" stroke-width="0.5" stroke-linejoin="round">2</text>
<text transform="translate(769.40 1692.00) rotate(-41) scale(1.0000 1.0400) translate(-22.12 13.41)" font-size="39" font-weight="bold" stroke="#231f20" stroke-width="0.5" stroke-linejoin="round">10</text>
<text transform="translate(775.50 1659.30) rotate(-41) scale(1.0000 1.0400) translate(-8.20 10.31)" font-size="30" font-weight="bold" stroke="#231f20" stroke-width="0.5" stroke-linejoin="round">3</text>
<text transform="translate(821.70 1692.00) rotate(-41) scale(1.0000 1.0400) translate(-22.12 13.41)" font-size="39" font-weight="bold" stroke="#231f20" stroke-width="0.5" stroke-linejoin="round">10</text>
<text transform="translate(827.60 1659.70) rotate(-41) scale(1.0000 1.0400) translate(-8.44 10.55)" font-size="30" font-weight="bold" stroke="#231f20" stroke-width="0.5" stroke-linejoin="round">4</text>
<text transform="translate(872.50 1692.00) rotate(-41) scale(1.0000 1.0400) translate(-22.12 13.41)" font-size="39" font-weight="bold" stroke="#231f20" stroke-width="0.5" stroke-linejoin="round">10</text>
<text transform="translate(878.00 1658.30) rotate(-41) scale(1.0000 1.0400) translate(-8.20 10.31)" font-size="30" font-weight="bold" stroke="#231f20" stroke-width="0.5" stroke-linejoin="round">5</text>
<text transform="translate(924.60 1692.00) rotate(-41) scale(1.0000 1.0400) translate(-22.12 13.41)" font-size="39" font-weight="bold" stroke="#231f20" stroke-width="0.5" stroke-linejoin="round">10</text>
<text transform="translate(932.40 1661.00) rotate(-41) scale(1.0000 1.0400) translate(-8.44 10.31)" font-size="30" font-weight="bold" stroke="#231f20" stroke-width="0.5" stroke-linejoin="round">6</text>
<text transform="translate(976.40 1692.00) rotate(-41) scale(1.0000 1.0400) translate(-22.12 13.41)" font-size="39" font-weight="bold" stroke="#231f20" stroke-width="0.5" stroke-linejoin="round">10</text>
<text transform="translate(980.60 1661.00) rotate(-41) scale(1.0000 1.0400) translate(-8.20 10.55)" font-size="30" font-weight="bold" stroke="#231f20" stroke-width="0.5" stroke-linejoin="round">7</text>
<text transform="translate(1034.00 1692.00) rotate(-41) scale(1.0000 1.0400) translate(-22.12 13.41)" font-size="39" font-weight="bold" stroke="#231f20" stroke-width="0.5" stroke-linejoin="round">10</text>
<text transform="translate(1042.00 1663.50) rotate(-41) scale(1.0000 1.0400) translate(-8.44 10.31)" font-size="30" font-weight="bold" stroke="#231f20" stroke-width="0.5" stroke-linejoin="round">8</text>
<text transform="translate(1133.70 1230.70) scale(0.5973 1.0000) translate(0.00 -1.04)" font-size="66.3" font-weight="bold" stroke="#231f20" stroke-width="1.8" stroke-linejoin="round">J</text>
<text transform="translate(1198.00 1218.30) scale(1.0117 1.0000) translate(-1.81 0.00)" font-size="29" font-weight="bold">HepG2</text>
<text transform="translate(1472.00 1611.70) scale(1.0000 1.0400) translate(-49.26 12.55)" font-size="36.5" font-weight="bold" stroke="#231f20" stroke-width="0.5" stroke-linejoin="round">0.0</text>
<text transform="translate(1472.00 1492.80) scale(1.0000 1.0400) translate(-49.83 12.55)" font-size="36.5" font-weight="bold" stroke="#231f20" stroke-width="0.5" stroke-linejoin="round">0.5</text>
<text transform="translate(1472.00 1373.90) scale(1.0000 1.0400) translate(-49.26 12.55)" font-size="36.5" font-weight="bold" stroke="#231f20" stroke-width="0.5" stroke-linejoin="round">1.0</text>
<text transform="translate(1472.00 1255.00) scale(1.0000 1.0400) translate(-49.83 12.55)" font-size="36.5" font-weight="bold" stroke="#231f20" stroke-width="0.5" stroke-linejoin="round">1.5</text>
<text class="fD" transform="translate(1587.00 1271.30) translate(-20.20 18.56)" font-size="36" letter-spacing="4.4" stroke="#231f20" stroke-width="0.7" stroke-linejoin="round">**</text>
<text transform="translate(1711.75 1373.00) translate(-15.50 7.57)" font-size="28.5">ns</text>
<text transform="translate(1670.90 1431.20) translate(-15.50 7.57)" font-size="28.5">ns</text>
<text transform="translate(1489.30 1665.30) translate(-85.06 0.00)" font-size="37.0" font-weight="bold" stroke="#231f20" stroke-width="0.5" stroke-linejoin="round">ActD</text>
<text transform="translate(1489.00 1707.00) translate(-145.83 0.00)" font-size="36.8" font-weight="bold" stroke="#231f20" stroke-width="0.5" stroke-linejoin="round">CF (mM)</text>
<text transform="translate(1547.90 1654.30) translate(-6.15 9.67)" font-size="37.5" font-weight="bold" stroke="#231f20" stroke-width="0.5" stroke-linejoin="round">-</text>
<text transform="translate(1547.50 1707.00) scale(1.0000 1.0400) translate(-10.25 0.00)" font-size="37.5" font-weight="bold" stroke="#231f20" stroke-width="0.5" stroke-linejoin="round">0</text>
<text transform="translate(1630.40 1651.90) translate(-10.84 12.60)" font-size="37.5" font-weight="bold" stroke="#231f20" stroke-width="0.5" stroke-linejoin="round">+</text>
<text transform="translate(1630.00 1707.00) scale(1.0000 1.0400) translate(-10.25 0.00)" font-size="37.5" font-weight="bold" stroke="#231f20" stroke-width="0.5" stroke-linejoin="round">0</text>
<text transform="translate(1712.60 1651.90) translate(-10.84 12.60)" font-size="37.5" font-weight="bold" stroke="#231f20" stroke-width="0.5" stroke-linejoin="round">+</text>
<text transform="translate(1712.20 1707.00) scale(1.0000 1.0400) translate(-21.27 0.00)" font-size="37.5" font-weight="bold" stroke="#231f20" stroke-width="0.5" stroke-linejoin="round">10</text>
<text transform="translate(1794.80 1651.90) translate(-10.84 12.60)" font-size="37.5" font-weight="bold" stroke="#231f20" stroke-width="0.5" stroke-linejoin="round">+</text>
<text transform="translate(1794.40 1707.00) scale(1.0000 1.0400) translate(-31.70 0.00)" font-size="37.5" font-weight="bold" stroke="#231f20" stroke-width="0.5" stroke-linejoin="round">100</text>
<text transform="translate(1306.50 1437.20) rotate(-90) translate(-153.01 0.00)" font-size="37.4" font-weight="bold" stroke="#231f20" stroke-width="0.5" stroke-linejoin="round">Fold Induction of</text>
<text transform="translate(1355.00 1437.50) rotate(-90) scale(1.0000 1.0400) translate(-125.50 0.00)" font-size="37.4" font-weight="bold" stroke="#231f20" stroke-width="0.5" stroke-linejoin="round">PCSK9 mRNA</text>
<text transform="translate(1401.50 1438.20) rotate(-90) translate(-174.76 0.00)" font-size="37.4" font-weight="bold" stroke="#231f20" stroke-width="0.5" stroke-linejoin="round">(Normalized to 18S)</text>
<text transform="translate(279.90 1845.20) scale(0.7641 1.0000) translate(-4.25 0.00)" font-size="68.0" font-weight="bold">K</text>
<text transform="translate(355.00 1832.40) scale(1.0139 1.0000) translate(-1.81 0.00)" font-size="29" font-weight="bold">HepG2</text>
<text transform="translate(611.00 2218.55) scale(1.0000 1.0400) translate(-53.17 13.54)" font-size="39.4" font-weight="bold" stroke="#231f20" stroke-width="0.5" stroke-linejoin="round">0.0</text>
<text transform="translate(611.00 2099.77) scale(1.0000 1.0400) translate(-53.79 13.54)" font-size="39.4" font-weight="bold" stroke="#231f20" stroke-width="0.5" stroke-linejoin="round">0.5</text>
<text transform="translate(611.00 1980.98) scale(1.0000 1.0400) translate(-53.17 13.54)" font-size="39.4" font-weight="bold" stroke="#231f20" stroke-width="0.5" stroke-linejoin="round">1.0</text>
<text transform="translate(611.00 1862.20) scale(1.0000 1.0400) translate(-53.79 13.54)" font-size="39.4" font-weight="bold" stroke="#231f20" stroke-width="0.5" stroke-linejoin="round">1.5</text>
<text class="fD" transform="translate(725.85 1913.20) translate(-20.20 18.56)" font-size="36" letter-spacing="4.4" stroke="#231f20" stroke-width="0.7" stroke-linejoin="round">**</text>
<text transform="translate(850.85 1993.20) translate(-15.50 7.57)" font-size="28.5">ns</text>
<text transform="translate(809.70 2038.20) translate(-15.50 7.57)" font-size="28.5">ns</text>
<text transform="translate(628.10 2272.40) translate(-87.36 0.00)" font-size="38.0" font-weight="bold" stroke="#231f20" stroke-width="0.5" stroke-linejoin="round">ActD</text>
<text transform="translate(627.80 2313.50) translate(-149.80 0.00)" font-size="37.8" font-weight="bold" stroke="#231f20" stroke-width="0.5" stroke-linejoin="round">CF (mM)</text>
<text transform="translate(686.60 2261.40) translate(-6.32 9.93)" font-size="38.5" font-weight="bold" stroke="#231f20" stroke-width="0.5" stroke-linejoin="round">-</text>
<text transform="translate(686.20 2313.50) scale(1.0000 1.0400) translate(-10.53 0.00)" font-size="38.5" font-weight="bold" stroke="#231f20" stroke-width="0.5" stroke-linejoin="round">0</text>
<text transform="translate(768.80 2259.00) translate(-11.13 12.93)" font-size="38.5" font-weight="bold" stroke="#231f20" stroke-width="0.5" stroke-linejoin="round">+</text>
<text transform="translate(768.40 2313.50) scale(1.0000 1.0400) translate(-10.53 0.00)" font-size="38.5" font-weight="bold" stroke="#231f20" stroke-width="0.5" stroke-linejoin="round">0</text>
<text transform="translate(851.00 2259.00) translate(-11.13 12.93)" font-size="38.5" font-weight="bold" stroke="#231f20" stroke-width="0.5" stroke-linejoin="round">+</text>
<text transform="translate(850.60 2313.50) scale(1.0000 1.0400) translate(-21.83 0.00)" font-size="38.5" font-weight="bold" stroke="#231f20" stroke-width="0.5" stroke-linejoin="round">10</text>
<text transform="translate(933.50 2259.00) translate(-11.13 12.93)" font-size="38.5" font-weight="bold" stroke="#231f20" stroke-width="0.5" stroke-linejoin="round">+</text>
<text transform="translate(933.10 2313.50) scale(1.0000 1.0400) translate(-32.54 0.00)" font-size="38.5" font-weight="bold" stroke="#231f20" stroke-width="0.5" stroke-linejoin="round">100</text>
<text transform="translate(495.50 2041.80) rotate(-90) translate(-116.68 0.00)" font-size="38.3" font-weight="bold" stroke="#231f20" stroke-width="0.5" stroke-linejoin="round">Fold Change</text>
<text transform="translate(545.00 2038.50) rotate(-90) scale(1.0200 1.0350) translate(-149.90 0.00)" font-size="38.3" font-weight="bold" stroke="#231f20" stroke-width="0.5" stroke-linejoin="round">Secreted PCSK9</text>
<text transform="translate(1130.00 1846.60) scale(0.7031 1.0000) translate(-4.25 0.00)" font-size="68.0" font-weight="bold">L</text>
<text transform="translate(1195.00 1830.50) scale(1.0227 1.0000) translate(-1.81 0.00)" font-size="29" font-weight="bold">HepG2</text>
<text transform="translate(1398.00 2242.90) scale(1.0000 1.0400) translate(-80.04 14.44)" font-size="42" font-weight="bold" stroke="#231f20" stroke-width="0.5" stroke-linejoin="round">0.90</text>
<text transform="translate(1398.00 2167.56) scale(1.0000 1.0400) translate(-80.70 14.44)" font-size="42" font-weight="bold" stroke="#231f20" stroke-width="0.5" stroke-linejoin="round">0.95</text>
<text transform="translate(1398.00 2092.22) scale(1.0000 1.0400) translate(-80.04 14.44)" font-size="42" font-weight="bold" stroke="#231f20" stroke-width="0.5" stroke-linejoin="round">1.00</text>
<text transform="translate(1398.00 2016.88) scale(1.0000 1.0400) translate(-80.70 14.44)" font-size="42" font-weight="bold" stroke="#231f20" stroke-width="0.5" stroke-linejoin="round">1.05</text>
<text transform="translate(1398.00 1941.54) scale(1.0000 1.0400) translate(-80.04 14.44)" font-size="42" font-weight="bold" stroke="#231f20" stroke-width="0.5" stroke-linejoin="round">1.10</text>
<text transform="translate(1398.00 1866.20) scale(1.0000 1.0400) translate(-80.70 14.44)" font-size="42" font-weight="bold" stroke="#231f20" stroke-width="0.5" stroke-linejoin="round">1.15</text>
<text transform="translate(1497.40 1904.50) translate(-15.50 7.57)" font-size="28.5">ns</text>
<text transform="translate(1253.20 2043.50) rotate(-90) translate(-121.86 0.00)" font-size="40" font-weight="bold" stroke="#231f20" stroke-width="0.5" stroke-linejoin="round">Fold Change</text>
<text transform="translate(1304.00 2044.50) rotate(-90) scale(1.0200 1.0350) translate(-156.55 0.00)" font-size="40" font-weight="bold" stroke="#231f20" stroke-width="0.5" stroke-linejoin="round">Secreted PCSK9</text>
<text transform="translate(1418.50 2313.50) rotate(-38) scale(0.9700 1.0000) translate(-73.23 15.38)" font-size="42.8" font-weight="bold" stroke="#231f20" stroke-width="0.5" stroke-linejoin="round">Vehicle</text>
<text transform="translate(1524.80 2296.30) rotate(-38) translate(-27.40 14.15)" font-size="41.16" font-weight="bold" stroke="#231f20" stroke-width="0.5" stroke-linejoin="round">CF</text>
</svg>
</body>
</html>
